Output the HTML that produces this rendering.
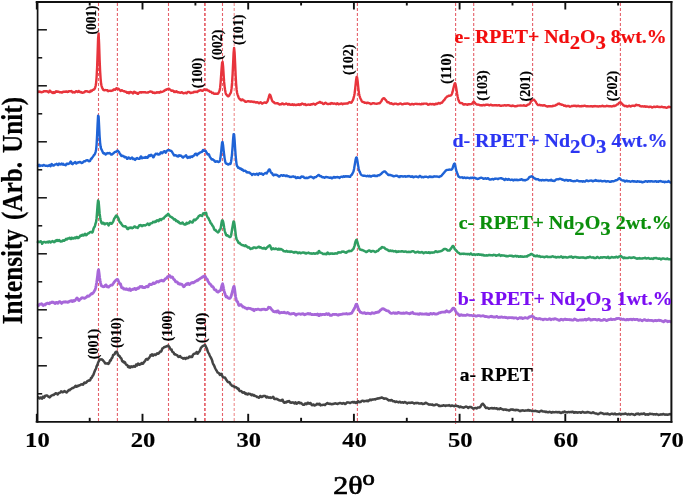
<!DOCTYPE html>
<html><head><meta charset="utf-8"><title>XRD</title>
<style>
html,body{margin:0;padding:0;background:#fff;}
svg{display:block;font-family:"Liberation Serif",serif;}
</style></head><body>
<svg width="685" height="497" viewBox="0 0 685 497">
<rect width="685" height="497" fill="#fff"/>
<g><line x1="98.5" y1="3" x2="98.5" y2="421.5" stroke="#e5616a" stroke-width="1.1" stroke-dasharray="3 2"/>
<line x1="117.4" y1="3" x2="117.4" y2="421.5" stroke="#e5616a" stroke-width="1.1" stroke-dasharray="3 2"/>
<line x1="168.5" y1="3" x2="168.5" y2="421.5" stroke="#e5616a" stroke-width="1.1" stroke-dasharray="3 2"/>
<line x1="204.9" y1="3" x2="204.9" y2="421.5" stroke="#e5616a" stroke-width="1.7" stroke-dasharray="3 2"/>
<line x1="222.5" y1="3" x2="222.5" y2="421.5" stroke="#e5616a" stroke-width="1.1" stroke-dasharray="3 2"/>
<line x1="234.2" y1="3" x2="234.2" y2="421.5" stroke="#ee8d8d" stroke-width="1.1" stroke-dasharray="3 2"/>
<line x1="357.4" y1="3" x2="357.4" y2="421.5" stroke="#e5616a" stroke-width="1.1" stroke-dasharray="3 2"/>
<line x1="455.6" y1="3" x2="455.6" y2="424" stroke="#e5616a" stroke-width="1.1" stroke-dasharray="3 2"/>
<line x1="473.7" y1="3" x2="473.7" y2="421.5" stroke="#e5616a" stroke-width="1.1" stroke-dasharray="3 2"/>
<line x1="532.6" y1="3" x2="532.6" y2="421.5" stroke="#e5616a" stroke-width="1.1" stroke-dasharray="3 2"/>
<line x1="620.4" y1="3" x2="620.4" y2="421.5" stroke="#e5616a" stroke-width="1.1" stroke-dasharray="3 2"/></g>
<g><path d="M37.6,397.3 L38.1,397.2 L38.6,397.7 L39.1,398.3 L39.6,398.5 L40.1,398.0 L40.6,397.4 L41.1,397.5 L41.6,398.3 L42.1,398.6 L42.6,397.7 L43.1,396.6 L43.6,396.8 L44.1,397.6 L44.6,396.9 L45.1,395.8 L45.6,395.8 L46.1,395.5 L46.6,395.5 L47.1,395.6 L47.6,395.9 L48.1,396.6 L48.6,396.7 L49.1,396.8 L49.6,397.4 L50.1,397.2 L50.6,396.2 L51.1,395.9 L51.6,395.6 L52.1,395.3 L52.6,394.9 L53.1,395.1 L53.6,395.1 L54.1,394.6 L54.6,394.0 L55.1,393.8 L55.6,393.3 L56.1,393.2 L56.6,393.6 L57.1,393.8 L57.6,394.5 L58.1,394.1 L58.6,393.0 L59.1,393.0 L59.6,392.7 L60.1,392.7 L60.6,392.2 L61.1,391.3 L61.6,391.6 L62.1,392.1 L62.6,392.3 L63.1,391.8 L63.6,391.9 L64.1,391.4 L64.6,391.1 L65.1,391.3 L65.6,392.0 L66.1,392.2 L66.6,392.5 L67.1,391.8 L67.6,391.4 L68.1,390.9 L68.6,390.1 L69.1,390.1 L69.6,390.3 L70.1,389.6 L70.6,389.2 L71.1,389.0 L71.6,388.7 L72.1,388.2 L72.6,387.9 L73.1,387.9 L73.6,387.5 L74.1,387.2 L74.6,387.2 L75.1,386.3 L75.6,385.7 L76.1,386.1 L76.6,386.8 L77.1,386.4 L77.6,385.8 L78.1,385.8 L78.6,386.0 L79.1,385.4 L79.6,385.2 L80.1,385.3 L80.6,384.7 L81.1,384.5 L81.6,384.4 L82.1,384.2 L82.6,384.4 L83.1,384.7 L83.6,383.9 L84.1,382.9 L84.6,382.6 L85.1,383.0 L85.6,383.0 L86.1,382.7 L86.6,382.1 L87.1,381.5 L87.6,381.0 L88.1,380.8 L88.6,380.7 L89.1,380.3 L89.6,380.4 L90.1,380.4 L90.6,379.1 L91.1,377.8 L91.6,378.0 L92.1,377.0 L92.6,375.8 L93.1,375.4 L93.6,374.3 L94.1,372.8 L94.6,371.4 L95.1,370.2 L95.6,369.3 L96.1,368.2 L96.6,366.4 L97.1,365.4 L97.6,364.4 L98.1,362.5 L98.6,361.6 L99.1,360.7 L99.6,359.7 L100.1,359.3 L100.6,359.6 L101.1,359.6 L101.6,359.3 L102.1,359.5 L102.6,360.1 L103.1,360.5 L103.6,361.1 L104.1,361.6 L104.6,362.4 L105.1,363.3 L105.6,363.4 L106.1,363.4 L106.6,363.5 L107.1,363.2 L107.6,363.4 L108.1,363.9 L108.6,363.8 L109.1,363.2 L109.6,361.6 L110.1,360.4 L110.6,360.7 L111.1,359.7 L111.6,358.3 L112.1,358.0 L112.6,356.7 L113.1,355.1 L113.6,354.7 L114.1,354.6 L114.6,354.3 L115.1,352.9 L115.6,352.0 L116.1,351.7 L116.6,351.7 L117.1,352.2 L117.6,353.7 L118.1,355.1 L118.6,355.7 L119.1,355.6 L119.6,356.1 L120.1,357.2 L120.6,357.8 L121.1,358.2 L121.6,359.1 L122.1,361.0 L122.6,361.4 L123.1,361.2 L123.6,362.2 L124.1,362.6 L124.6,361.9 L125.1,362.6 L125.6,363.8 L126.1,364.6 L126.6,364.8 L127.1,364.9 L127.6,365.7 L128.1,367.0 L128.6,367.3 L129.1,366.3 L129.6,366.6 L130.1,367.6 L130.6,366.8 L131.1,366.3 L131.6,366.6 L132.1,367.0 L132.6,367.1 L133.1,366.6 L133.6,366.0 L134.1,366.3 L134.6,366.6 L135.1,366.8 L135.6,365.7 L136.1,364.5 L136.6,364.7 L137.1,365.4 L137.6,364.6 L138.1,363.6 L138.6,364.0 L139.1,364.7 L139.6,364.8 L140.1,364.1 L140.6,364.2 L141.1,364.0 L141.6,363.1 L142.1,363.1 L142.6,363.8 L143.1,363.6 L143.6,362.7 L144.1,362.0 L144.6,361.6 L145.1,360.8 L145.6,359.9 L146.1,359.2 L146.6,359.0 L147.1,359.2 L147.6,359.6 L148.1,358.7 L148.6,358.4 L149.1,358.0 L149.6,357.1 L150.1,356.3 L150.6,355.1 L151.1,355.4 L151.6,355.4 L152.1,354.3 L152.6,354.7 L153.1,355.6 L153.6,355.3 L154.1,354.6 L154.6,354.6 L155.1,354.7 L155.6,355.0 L156.1,354.6 L156.6,353.8 L157.1,353.3 L157.6,353.4 L158.1,353.8 L158.6,353.4 L159.1,353.0 L159.6,352.2 L160.1,351.4 L160.6,351.4 L161.1,351.5 L161.6,350.7 L162.1,349.1 L162.6,348.2 L163.1,348.1 L163.6,347.7 L164.1,347.2 L164.6,347.0 L165.1,346.9 L165.6,346.7 L166.1,346.6 L166.6,346.3 L167.1,346.2 L167.6,345.8 L168.1,345.5 L168.6,346.0 L169.1,346.8 L169.6,347.4 L170.1,348.5 L170.6,349.4 L171.1,349.2 L171.6,349.6 L172.1,351.2 L172.6,351.9 L173.1,352.2 L173.6,352.5 L174.1,353.9 L174.6,354.4 L175.1,354.2 L175.6,354.4 L176.1,354.8 L176.6,355.1 L177.1,355.2 L177.6,355.7 L178.1,356.7 L178.6,356.9 L179.1,356.8 L179.6,356.4 L180.1,356.0 L180.6,356.9 L181.1,357.3 L181.6,357.6 L182.1,357.9 L182.6,358.1 L183.1,358.6 L183.6,358.3 L184.1,358.0 L184.6,358.2 L185.1,358.8 L185.6,358.9 L186.1,358.1 L186.6,357.7 L187.1,358.2 L187.6,357.9 L188.1,358.1 L188.6,357.6 L189.1,356.7 L189.6,356.6 L190.1,356.9 L190.6,356.9 L191.1,356.6 L191.6,356.9 L192.1,357.0 L192.6,355.7 L193.1,354.6 L193.6,354.1 L194.1,353.8 L194.6,353.8 L195.1,353.5 L195.6,353.3 L196.1,353.1 L196.6,352.0 L197.1,352.4 L197.6,353.7 L198.1,353.3 L198.6,352.3 L199.1,351.7 L199.6,351.3 L200.1,350.1 L200.6,348.7 L201.1,347.5 L201.6,347.2 L202.1,346.7 L202.6,346.2 L203.1,345.9 L203.6,345.7 L204.1,345.5 L204.6,345.4 L205.1,345.0 L205.6,345.9 L206.1,347.3 L206.6,348.0 L207.1,349.3 L207.6,350.9 L208.1,352.4 L208.6,353.2 L209.1,353.8 L209.6,355.2 L210.1,356.3 L210.6,357.1 L211.1,358.2 L211.6,359.1 L212.1,360.4 L212.6,362.4 L213.1,363.8 L213.6,364.6 L214.1,365.6 L214.6,366.8 L215.1,368.0 L215.6,369.0 L216.1,369.9 L216.6,370.6 L217.1,371.7 L217.6,372.5 L218.1,372.8 L218.6,372.9 L219.1,373.5 L219.6,374.5 L220.1,374.9 L220.6,374.7 L221.1,373.8 L221.6,374.0 L222.1,375.6 L222.6,376.7 L223.1,377.3 L223.6,377.4 L224.1,377.4 L224.6,377.4 L225.1,377.6 L225.6,378.8 L226.1,379.4 L226.6,380.3 L227.1,381.0 L227.6,381.7 L228.1,382.2 L228.6,382.1 L229.1,382.1 L229.6,382.4 L230.1,383.3 L230.6,384.4 L231.1,384.6 L231.6,385.3 L232.1,385.8 L232.6,386.1 L233.1,386.1 L233.6,385.9 L234.1,386.6 L234.6,387.3 L235.1,386.9 L235.6,386.9 L236.1,387.3 L236.6,387.7 L237.1,388.1 L237.6,388.9 L238.1,388.6 L238.6,388.7 L239.1,390.3 L239.6,390.9 L240.1,391.0 L240.6,391.1 L241.1,391.1 L241.6,391.4 L242.1,392.2 L242.6,392.6 L243.1,392.7 L243.6,392.4 L244.1,392.2 L244.6,392.7 L245.1,393.6 L245.6,393.9 L246.1,393.4 L246.6,393.5 L247.1,394.4 L247.6,394.6 L248.1,394.2 L248.6,393.6 L249.1,393.7 L249.6,394.0 L250.1,394.0 L250.6,394.0 L251.1,394.9 L251.6,395.2 L252.1,394.9 L252.6,394.6 L253.1,395.2 L253.6,395.6 L254.1,395.1 L254.6,395.6 L255.1,396.0 L255.6,396.0 L256.1,396.3 L256.6,396.5 L257.1,397.0 L257.6,397.1 L258.1,397.2 L258.6,397.8 L259.1,397.6 L259.6,397.0 L260.1,396.0 L260.6,396.1 L261.1,396.8 L261.6,397.0 L262.1,396.8 L262.6,396.6 L263.1,396.1 L263.6,396.0 L264.1,395.9 L264.6,396.1 L265.1,396.1 L265.6,396.2 L266.1,397.0 L266.6,397.5 L267.1,396.8 L267.6,396.8 L268.1,397.3 L268.6,397.4 L269.1,397.8 L269.6,397.5 L270.1,397.2 L270.6,397.5 L271.1,397.9 L271.6,397.7 L272.1,397.5 L272.6,397.2 L273.1,396.8 L273.6,397.4 L274.1,398.7 L274.6,399.1 L275.1,399.0 L275.6,398.9 L276.1,398.7 L276.6,398.9 L277.1,399.0 L277.6,399.5 L278.1,399.6 L278.6,399.9 L279.1,400.3 L279.6,400.3 L280.1,400.5 L280.6,400.6 L281.1,400.7 L281.6,400.6 L282.1,399.7 L282.6,399.8 L283.1,401.1 L283.6,402.2 L284.1,402.8 L284.6,402.8 L285.1,402.5 L285.6,402.1 L286.1,402.4 L286.6,402.3 L287.1,401.5 L287.6,401.3 L288.1,401.7 L288.6,401.5 L289.1,401.0 L289.6,401.8 L290.1,402.5 L290.6,402.6 L291.1,402.8 L291.6,402.7 L292.1,402.3 L292.6,402.5 L293.1,402.5 L293.6,402.5 L294.1,403.2 L294.6,403.5 L295.1,402.7 L295.6,402.3 L296.1,402.8 L296.6,403.8 L297.1,403.5 L297.6,403.0 L298.1,402.6 L298.6,402.3 L299.1,402.3 L299.6,403.1 L300.1,403.3 L300.6,402.8 L301.1,403.0 L301.6,403.4 L302.1,403.9 L302.6,404.3 L303.1,404.7 L303.6,404.8 L304.1,404.7 L304.6,404.3 L305.1,403.5 L305.6,403.6 L306.1,404.2 L306.6,404.1 L307.1,403.5 L307.6,402.7 L308.1,402.8 L308.6,403.5 L309.1,403.7 L309.6,403.4 L310.1,403.1 L310.6,403.1 L311.1,404.0 L311.6,404.9 L312.1,405.2 L312.6,404.9 L313.1,404.5 L313.6,404.6 L314.1,405.4 L314.6,405.6 L315.1,405.1 L315.6,405.0 L316.1,404.8 L316.6,404.2 L317.1,403.7 L317.6,404.1 L318.1,404.4 L318.6,404.0 L319.1,403.7 L319.6,403.7 L320.1,404.9 L320.6,405.4 L321.1,405.2 L321.6,405.0 L322.1,404.9 L322.6,404.9 L323.1,404.8 L323.6,404.8 L324.1,404.8 L324.6,404.9 L325.1,404.9 L325.6,404.2 L326.1,404.0 L326.6,403.7 L327.1,403.2 L327.6,403.1 L328.1,403.7 L328.6,403.7 L329.1,403.7 L329.6,403.9 L330.1,403.8 L330.6,403.8 L331.1,404.0 L331.6,404.3 L332.1,404.2 L332.6,403.9 L333.1,404.1 L333.6,403.9 L334.1,403.7 L334.6,403.6 L335.1,403.5 L335.6,403.2 L336.1,403.5 L336.6,403.8 L337.1,403.8 L337.6,404.0 L338.1,403.6 L338.6,403.4 L339.1,403.3 L339.6,403.1 L340.1,403.0 L340.6,403.2 L341.1,403.3 L341.6,403.4 L342.1,403.7 L342.6,403.6 L343.1,403.1 L343.6,403.2 L344.1,403.3 L344.6,403.5 L345.1,404.0 L345.6,403.8 L346.1,403.3 L346.6,402.8 L347.1,402.3 L347.6,402.5 L348.1,402.4 L348.6,402.4 L349.1,402.6 L349.6,402.8 L350.1,403.0 L350.6,402.8 L351.1,402.5 L351.6,402.2 L352.1,402.2 L352.6,402.1 L353.1,402.0 L353.6,402.4 L354.1,402.0 L354.6,402.0 L355.1,402.7 L355.6,402.9 L356.1,402.2 L356.6,402.3 L357.1,402.8 L357.6,402.1 L358.1,401.2 L358.6,401.6 L359.1,402.2 L359.6,402.1 L360.1,402.0 L360.6,402.0 L361.1,401.6 L361.6,401.0 L362.1,400.7 L362.6,400.8 L363.1,400.7 L363.6,401.0 L364.1,401.4 L364.6,401.2 L365.1,400.9 L365.6,400.9 L366.1,401.0 L366.6,400.9 L367.1,400.5 L367.6,400.8 L368.1,401.2 L368.6,400.9 L369.1,400.3 L369.6,399.9 L370.1,399.6 L370.6,399.9 L371.1,400.3 L371.6,400.0 L372.1,399.5 L372.6,399.5 L373.1,399.5 L373.6,399.5 L374.1,399.3 L374.6,399.2 L375.1,399.4 L375.6,399.4 L376.1,398.9 L376.6,398.7 L377.1,398.8 L377.6,398.4 L378.1,398.3 L378.6,398.4 L379.1,398.4 L379.6,398.2 L380.1,398.0 L380.6,398.0 L381.1,397.7 L381.6,397.4 L382.1,397.6 L382.6,398.0 L383.1,398.0 L383.6,398.3 L384.1,398.7 L384.6,398.7 L385.1,398.5 L385.6,398.5 L386.1,398.7 L386.6,398.8 L387.1,399.1 L387.6,399.6 L388.1,399.9 L388.6,400.4 L389.1,400.3 L389.6,400.2 L390.1,400.4 L390.6,400.5 L391.1,400.1 L391.6,400.1 L392.1,400.4 L392.6,400.9 L393.1,401.3 L393.6,401.3 L394.1,401.2 L394.6,401.4 L395.1,401.9 L395.6,402.0 L396.1,401.7 L396.6,401.5 L397.1,401.8 L397.6,402.0 L398.1,402.2 L398.6,402.4 L399.1,402.2 L399.6,401.7 L400.1,401.9 L400.6,402.4 L401.1,402.5 L401.6,402.5 L402.1,402.3 L402.6,402.2 L403.1,402.5 L403.6,402.8 L404.1,402.5 L404.6,402.1 L405.1,402.1 L405.6,402.3 L406.1,402.7 L406.6,403.2 L407.1,403.4 L407.6,403.0 L408.1,402.7 L408.6,402.8 L409.1,402.8 L409.6,402.8 L410.1,402.9 L410.6,402.8 L411.1,402.6 L411.6,402.8 L412.1,402.6 L412.6,402.6 L413.1,402.8 L413.6,403.1 L414.1,403.5 L414.6,403.4 L415.1,403.1 L415.6,402.9 L416.1,403.0 L416.6,403.2 L417.1,403.1 L417.6,403.1 L418.1,402.9 L418.6,403.3 L419.1,403.6 L419.6,403.6 L420.1,403.6 L420.6,403.6 L421.1,403.3 L421.6,403.2 L422.1,403.6 L422.6,404.0 L423.1,403.9 L423.6,403.8 L424.1,403.8 L424.6,403.6 L425.1,403.0 L425.6,402.7 L426.1,402.9 L426.6,403.2 L427.1,403.5 L427.6,403.7 L428.1,404.0 L428.6,404.4 L429.1,404.5 L429.6,404.6 L430.1,404.7 L430.6,404.5 L431.1,404.5 L431.6,404.8 L432.1,404.5 L432.6,404.6 L433.1,405.2 L433.6,405.3 L434.1,405.2 L434.6,405.2 L435.1,405.0 L435.6,404.6 L436.1,404.4 L436.6,404.4 L437.1,404.7 L437.6,404.9 L438.1,405.1 L438.6,405.6 L439.1,406.0 L439.6,405.6 L440.1,405.8 L440.6,406.0 L441.1,405.9 L441.6,405.7 L442.1,405.8 L442.6,405.7 L443.1,405.4 L443.6,405.3 L444.1,405.4 L444.6,405.6 L445.1,405.8 L445.6,405.9 L446.1,405.6 L446.6,405.5 L447.1,405.5 L447.6,405.6 L448.1,405.5 L448.6,405.3 L449.1,405.1 L449.6,405.3 L450.1,405.8 L450.6,406.1 L451.1,405.9 L451.6,405.5 L452.1,405.5 L452.6,405.7 L453.1,405.8 L453.6,406.0 L454.1,406.2 L454.6,406.1 L455.1,405.8 L455.6,405.6 L456.1,405.7 L456.6,405.8 L457.1,406.1 L457.6,406.3 L458.1,406.2 L458.6,406.4 L459.1,406.9 L459.6,407.3 L460.1,407.0 L460.6,406.6 L461.1,407.0 L461.6,407.2 L462.1,407.2 L462.6,407.3 L463.1,407.6 L463.6,407.7 L464.1,407.5 L464.6,407.2 L465.1,407.0 L465.6,406.7 L466.1,406.6 L466.6,406.8 L467.1,406.9 L467.6,407.4 L468.1,408.0 L468.6,407.8 L469.1,407.2 L469.6,407.0 L470.1,407.1 L470.6,407.0 L471.1,407.1 L471.6,407.6 L472.1,407.7 L472.6,408.2 L473.1,408.7 L473.6,408.5 L474.1,408.3 L474.6,408.3 L475.1,408.1 L475.6,408.0 L476.1,408.2 L476.6,408.4 L477.1,408.1 L477.6,407.6 L478.1,407.4 L478.6,407.5 L479.1,407.6 L479.6,407.5 L480.1,407.1 L480.6,406.4 L481.1,405.4 L481.6,404.7 L482.1,404.2 L482.6,403.8 L483.1,403.8 L483.6,404.6 L484.1,405.1 L484.6,405.9 L485.1,406.9 L485.6,407.5 L486.1,408.1 L486.6,407.9 L487.1,407.7 L487.6,407.9 L488.1,408.1 L488.6,408.6 L489.1,408.8 L489.6,408.5 L490.1,408.2 L490.6,408.3 L491.1,408.3 L491.6,408.0 L492.1,408.0 L492.6,408.4 L493.1,408.6 L493.6,408.4 L494.1,408.2 L494.6,408.1 L495.1,408.6 L495.6,408.5 L496.1,408.2 L496.6,408.2 L497.1,408.6 L497.6,409.2 L498.1,409.0 L498.6,408.7 L499.1,409.2 L499.6,409.1 L500.1,408.4 L500.6,408.2 L501.1,408.9 L501.6,409.1 L502.1,409.1 L502.6,409.3 L503.1,409.7 L503.6,409.9 L504.1,409.7 L504.6,409.5 L505.1,409.6 L505.6,409.7 L506.1,409.6 L506.6,410.0 L507.1,410.0 L507.6,410.0 L508.1,410.1 L508.6,410.3 L509.1,410.5 L509.6,410.5 L510.1,409.9 L510.6,409.6 L511.1,409.6 L511.6,409.6 L512.1,409.7 L512.6,409.5 L513.1,409.6 L513.6,409.9 L514.1,410.0 L514.6,410.0 L515.1,410.3 L515.6,410.2 L516.1,409.7 L516.6,410.0 L517.1,410.1 L517.6,410.1 L518.1,410.1 L518.6,410.4 L519.1,410.7 L519.6,410.9 L520.1,411.2 L520.6,411.0 L521.1,410.5 L521.6,410.4 L522.1,410.5 L522.6,410.3 L523.1,410.4 L523.6,410.6 L524.1,410.7 L524.6,410.7 L525.1,410.7 L525.6,410.5 L526.1,410.5 L526.6,410.4 L527.1,410.6 L527.6,410.5 L528.1,410.0 L528.6,409.9 L529.1,410.5 L529.6,410.7 L530.1,410.6 L530.6,410.4 L531.1,410.6 L531.6,410.8 L532.1,411.0 L532.6,411.2 L533.1,411.1 L533.6,410.9 L534.1,411.1 L534.6,411.0 L535.1,410.9 L535.6,410.7 L536.1,411.0 L536.6,411.3 L537.1,411.3 L537.6,411.4 L538.1,411.6 L538.6,411.7 L539.1,411.9 L539.6,411.5 L540.1,411.3 L540.6,411.1 L541.1,410.7 L541.6,410.7 L542.1,411.2 L542.6,411.3 L543.1,411.5 L543.6,411.4 L544.1,411.4 L544.6,411.7 L545.1,411.9 L545.6,411.9 L546.1,411.6 L546.6,411.8 L547.1,412.1 L547.6,412.2 L548.1,412.3 L548.6,412.2 L549.1,411.9 L549.6,411.8 L550.1,412.1 L550.6,412.2 L551.1,412.5 L551.6,412.7 L552.1,412.4 L552.6,412.0 L553.1,412.1 L553.6,412.3 L554.1,412.2 L554.6,412.3 L555.1,412.2 L555.6,412.1 L556.1,412.0 L556.6,412.2 L557.1,412.4 L557.6,412.2 L558.1,412.1 L558.6,412.2 L559.1,412.4 L559.6,412.1 L560.1,412.3 L560.6,412.8 L561.1,413.0 L561.6,412.7 L562.1,412.5 L562.6,412.1 L563.1,412.4 L563.6,412.3 L564.1,411.7 L564.6,411.5 L565.1,411.8 L565.6,412.1 L566.1,412.2 L566.6,412.2 L567.1,412.4 L567.6,412.3 L568.1,411.9 L568.6,411.9 L569.1,412.1 L569.6,412.3 L570.1,412.1 L570.6,412.0 L571.1,412.0 L571.6,412.2 L572.1,411.8 L572.6,411.7 L573.1,411.9 L573.6,412.3 L574.1,412.8 L574.6,412.4 L575.1,412.1 L575.6,412.3 L576.1,412.4 L576.6,412.3 L577.1,412.6 L577.6,412.7 L578.1,412.5 L578.6,412.4 L579.1,412.2 L579.6,412.2 L580.1,412.3 L580.6,412.7 L581.1,412.8 L581.6,412.4 L582.1,412.0 L582.6,411.7 L583.1,412.0 L583.6,412.3 L584.1,412.5 L584.6,412.6 L585.1,412.7 L585.6,412.5 L586.1,412.5 L586.6,412.6 L587.1,412.0 L587.6,411.9 L588.1,412.2 L588.6,412.3 L589.1,412.4 L589.6,412.6 L590.1,412.7 L590.6,412.9 L591.1,413.1 L591.6,413.0 L592.1,412.8 L592.6,412.4 L593.1,412.3 L593.6,412.6 L594.1,413.0 L594.6,413.2 L595.1,413.4 L595.6,413.6 L596.1,413.5 L596.6,413.4 L597.1,413.8 L597.6,414.1 L598.1,414.2 L598.6,414.0 L599.1,413.6 L599.6,413.4 L600.1,413.1 L600.6,412.7 L601.1,412.9 L601.6,413.1 L602.1,413.3 L602.6,413.3 L603.1,413.6 L603.6,414.0 L604.1,413.9 L604.6,413.9 L605.1,413.8 L605.6,413.8 L606.1,413.9 L606.6,413.9 L607.1,413.5 L607.6,413.5 L608.1,414.0 L608.6,414.2 L609.1,414.3 L609.6,414.5 L610.1,414.4 L610.6,414.1 L611.1,413.9 L611.6,413.7 L612.1,413.8 L612.6,413.8 L613.1,414.0 L613.6,414.3 L614.1,414.1 L614.6,413.7 L615.1,413.6 L615.6,414.1 L616.1,414.4 L616.6,414.2 L617.1,414.3 L617.6,414.3 L618.1,414.3 L618.6,414.1 L619.1,413.8 L619.6,413.8 L620.1,413.8 L620.6,414.3 L621.1,414.4 L621.6,414.1 L622.1,414.0 L622.6,414.0 L623.1,414.0 L623.6,414.0 L624.1,413.9 L624.6,413.8 L625.1,413.6 L625.6,413.6 L626.1,413.8 L626.6,414.1 L627.1,414.3 L627.6,414.5 L628.1,414.2 L628.6,414.0 L629.1,414.2 L629.6,414.5 L630.1,414.6 L630.6,414.3 L631.1,413.9 L631.6,414.0 L632.1,414.2 L632.6,414.3 L633.1,414.3 L633.6,414.4 L634.1,414.8 L634.6,414.9 L635.1,414.8 L635.6,414.3 L636.1,413.7 L636.6,413.7 L637.1,414.1 L637.6,414.0 L638.1,413.5 L638.6,413.9 L639.1,414.5 L639.6,414.4 L640.1,414.0 L640.6,413.9 L641.1,413.8 L641.6,413.8 L642.1,414.1 L642.6,414.1 L643.1,413.7 L643.6,413.5 L644.1,413.4 L644.6,413.7 L645.1,414.4 L645.6,414.7 L646.1,414.5 L646.6,414.4 L647.1,414.2 L647.6,414.4 L648.1,414.7 L648.6,414.6 L649.1,414.2 L649.6,413.8 L650.1,413.7 L650.6,413.9 L651.1,414.0 L651.6,414.0 L652.1,414.0 L652.6,414.1 L653.1,414.3 L653.6,414.4 L654.1,414.3 L654.6,414.2 L655.1,414.3 L655.6,414.6 L656.1,414.4 L656.6,414.1 L657.1,414.2 L657.6,414.5 L658.1,414.8 L658.6,414.9 L659.1,414.8 L659.6,414.8 L660.1,414.6 L660.6,414.4 L661.1,414.3 L661.6,414.6 L662.1,414.6 L662.6,414.4 L663.1,414.1 L663.6,414.0 L664.1,414.4 L664.6,414.6 L665.1,414.7 L665.6,414.6 L666.1,414.5 L666.6,414.6 L667.1,414.8 L667.6,414.8 L668.1,414.6 L668.6,414.5 L669.1,414.3 L669.6,414.2 L670.1,414.1 L670.6,414.5 L671.1,414.7" fill="none" stroke="#444444" stroke-width="2.5" stroke-linejoin="round" stroke-linecap="butt"/>
<path d="M37.6,304.1 L38.1,304.8 L38.6,305.6 L39.1,305.1 L39.6,304.1 L40.1,304.1 L40.6,304.2 L41.1,304.0 L41.6,303.7 L42.1,304.3 L42.6,305.0 L43.1,305.5 L43.6,305.2 L44.1,304.8 L44.6,304.5 L45.1,304.9 L45.6,304.0 L46.1,304.1 L46.6,303.7 L47.1,303.1 L47.6,303.1 L48.1,303.3 L48.6,303.6 L49.1,303.8 L49.6,303.7 L50.1,302.7 L50.6,302.6 L51.1,302.7 L51.6,302.7 L52.1,301.9 L52.6,302.2 L53.1,302.4 L53.6,302.2 L54.1,302.9 L54.6,303.2 L55.1,303.5 L55.6,303.2 L56.1,302.4 L56.6,302.3 L57.1,302.8 L57.6,303.3 L58.1,303.2 L58.6,302.3 L59.1,301.8 L59.6,301.6 L60.1,301.8 L60.6,302.1 L61.1,302.8 L61.6,303.4 L62.1,302.7 L62.6,302.4 L63.1,302.3 L63.6,301.8 L64.1,301.8 L64.6,302.1 L65.1,302.1 L65.6,301.8 L66.1,302.2 L66.6,302.0 L67.1,302.0 L67.6,302.3 L68.1,302.3 L68.6,302.1 L69.1,301.6 L69.6,301.2 L70.1,301.0 L70.6,300.8 L71.1,301.2 L71.6,300.6 L72.1,300.7 L72.6,301.6 L73.1,301.0 L73.6,300.5 L74.1,301.1 L74.6,300.8 L75.1,300.5 L75.6,299.7 L76.1,299.1 L76.6,298.3 L77.1,297.9 L77.6,298.4 L78.1,299.3 L78.6,300.2 L79.1,300.5 L79.6,299.6 L80.1,299.4 L80.6,299.0 L81.1,298.5 L81.6,297.9 L82.1,297.7 L82.6,297.8 L83.1,297.9 L83.6,298.1 L84.1,298.2 L84.6,298.4 L85.1,298.0 L85.6,297.6 L86.1,297.5 L86.6,297.0 L87.1,296.3 L87.6,295.9 L88.1,296.0 L88.6,296.3 L89.1,296.1 L89.6,295.6 L90.1,295.1 L90.6,294.4 L91.1,293.9 L91.6,293.4 L92.1,293.8 L92.6,293.4 L93.1,292.9 L93.6,292.3 L94.1,291.4 L94.6,290.6 L95.1,289.8 L95.6,288.0 L96.1,285.6 L96.6,282.9 L97.1,279.2 L97.6,275.4 L98.1,270.9 L98.6,269.6 L99.1,273.2 L99.6,277.4 L100.1,280.4 L100.6,283.0 L101.1,285.1 L101.6,286.1 L102.1,286.1 L102.6,286.3 L103.1,286.8 L103.6,286.7 L104.1,286.7 L104.6,286.4 L105.1,285.6 L105.6,285.1 L106.1,284.9 L106.6,286.0 L107.1,286.8 L107.6,286.5 L108.1,287.0 L108.6,287.0 L109.1,286.4 L109.6,286.1 L110.1,285.8 L110.6,285.3 L111.1,285.1 L111.6,285.2 L112.1,285.2 L112.6,284.6 L113.1,283.7 L113.6,283.1 L114.1,282.2 L114.6,281.6 L115.1,281.2 L115.6,280.5 L116.1,280.0 L116.6,279.7 L117.1,279.3 L117.6,279.4 L118.1,280.3 L118.6,281.5 L119.1,282.7 L119.6,284.1 L120.1,284.2 L120.6,284.0 L121.1,285.8 L121.6,287.7 L122.1,287.8 L122.6,287.6 L123.1,287.9 L123.6,288.9 L124.1,289.1 L124.6,289.0 L125.1,289.0 L125.6,289.4 L126.1,289.2 L126.6,288.7 L127.1,289.4 L127.6,289.7 L128.1,289.8 L128.6,290.0 L129.1,289.3 L129.6,288.7 L130.1,290.1 L130.6,290.5 L131.1,289.9 L131.6,289.7 L132.1,289.6 L132.6,289.2 L133.1,289.4 L133.6,289.3 L134.1,288.8 L134.6,288.4 L135.1,288.6 L135.6,289.4 L136.1,289.6 L136.6,289.1 L137.1,288.4 L137.6,288.0 L138.1,288.5 L138.6,288.3 L139.1,287.3 L139.6,287.2 L140.1,286.5 L140.6,286.8 L141.1,287.1 L141.6,286.5 L142.1,286.4 L142.6,287.2 L143.1,287.6 L143.6,287.5 L144.1,287.6 L144.6,287.3 L145.1,287.5 L145.6,287.0 L146.1,286.5 L146.6,286.3 L147.1,286.4 L147.6,286.8 L148.1,286.8 L148.6,285.7 L149.1,284.7 L149.6,284.1 L150.1,284.3 L150.6,284.6 L151.1,284.6 L151.6,284.4 L152.1,284.2 L152.6,283.8 L153.1,282.8 L153.6,282.8 L154.1,283.6 L154.6,283.4 L155.1,282.9 L155.6,282.9 L156.1,282.3 L156.6,281.7 L157.1,281.4 L157.6,281.9 L158.1,282.0 L158.6,282.0 L159.1,281.5 L159.6,280.9 L160.1,280.8 L160.6,280.9 L161.1,280.4 L161.6,280.1 L162.1,280.4 L162.6,280.8 L163.1,281.1 L163.6,281.0 L164.1,280.2 L164.6,279.7 L165.1,278.9 L165.6,278.6 L166.1,278.5 L166.6,278.4 L167.1,277.5 L167.6,276.6 L168.1,276.5 L168.6,276.2 L169.1,275.7 L169.6,275.5 L170.1,276.0 L170.6,277.3 L171.1,277.4 L171.6,277.2 L172.1,276.9 L172.6,277.2 L173.1,278.2 L173.6,279.1 L174.1,279.7 L174.6,279.9 L175.1,280.9 L175.6,281.7 L176.1,281.5 L176.6,281.9 L177.1,281.9 L177.6,282.6 L178.1,283.4 L178.6,283.9 L179.1,283.5 L179.6,283.9 L180.1,284.3 L180.6,283.9 L181.1,284.1 L181.6,284.1 L182.1,284.4 L182.6,285.3 L183.1,286.1 L183.6,286.8 L184.1,286.6 L184.6,286.0 L185.1,285.2 L185.6,284.7 L186.1,284.2 L186.6,283.8 L187.1,284.4 L187.6,283.9 L188.1,283.3 L188.6,283.7 L189.1,284.5 L189.6,284.5 L190.1,283.8 L190.6,283.5 L191.1,283.0 L191.6,282.6 L192.1,282.8 L192.6,282.7 L193.1,282.4 L193.6,282.8 L194.1,282.3 L194.6,282.1 L195.1,281.6 L195.6,281.2 L196.1,281.1 L196.6,281.0 L197.1,280.2 L197.6,280.2 L198.1,280.4 L198.6,279.5 L199.1,279.2 L199.6,279.0 L200.1,278.5 L200.6,278.2 L201.1,277.8 L201.6,277.7 L202.1,277.2 L202.6,276.8 L203.1,277.1 L203.6,276.6 L204.1,276.0 L204.6,275.8 L205.1,276.3 L205.6,277.2 L206.1,278.3 L206.6,279.1 L207.1,279.2 L207.6,280.2 L208.1,281.6 L208.6,282.2 L209.1,282.9 L209.6,283.9 L210.1,284.1 L210.6,284.4 L211.1,285.1 L211.6,286.2 L212.1,286.5 L212.6,286.5 L213.1,287.1 L213.6,287.7 L214.1,289.1 L214.6,289.8 L215.1,289.8 L215.6,289.8 L216.1,290.1 L216.6,291.3 L217.1,291.7 L217.6,291.9 L218.1,292.1 L218.6,291.7 L219.1,291.2 L219.6,290.7 L220.1,290.5 L220.6,290.5 L221.1,288.5 L221.6,286.5 L222.1,284.9 L222.6,283.8 L223.1,285.8 L223.6,288.5 L224.1,290.8 L224.6,292.8 L225.1,294.1 L225.6,295.9 L226.1,296.9 L226.6,296.3 L227.1,296.7 L227.6,297.6 L228.1,298.0 L228.6,298.1 L229.1,298.5 L229.6,298.4 L230.1,297.9 L230.6,297.6 L231.1,296.3 L231.6,294.4 L232.1,292.6 L232.6,291.0 L233.1,288.6 L233.6,286.8 L234.1,286.3 L234.6,289.0 L235.1,293.0 L235.6,296.5 L236.1,299.2 L236.6,300.9 L237.1,301.5 L237.6,301.8 L238.1,303.2 L238.6,305.0 L239.1,305.5 L239.6,305.4 L240.1,304.8 L240.6,304.6 L241.1,304.7 L241.6,305.4 L242.1,305.9 L242.6,306.6 L243.1,307.2 L243.6,307.0 L244.1,307.2 L244.6,307.3 L245.1,308.0 L245.6,308.0 L246.1,308.1 L246.6,308.6 L247.1,309.1 L247.6,308.6 L248.1,308.1 L248.6,308.1 L249.1,308.4 L249.6,308.4 L250.1,308.4 L250.6,308.8 L251.1,308.9 L251.6,308.8 L252.1,309.5 L252.6,309.8 L253.1,309.3 L253.6,310.2 L254.1,310.7 L254.6,309.9 L255.1,309.6 L255.6,309.3 L256.1,309.5 L256.6,309.6 L257.1,309.5 L257.6,309.1 L258.1,309.1 L258.6,309.3 L259.1,309.5 L259.6,309.7 L260.1,309.8 L260.6,309.7 L261.1,309.9 L261.6,309.7 L262.1,309.1 L262.6,309.4 L263.1,309.4 L263.6,309.1 L264.1,309.1 L264.6,309.3 L265.1,309.6 L265.6,309.8 L266.1,309.6 L266.6,309.7 L267.1,309.2 L267.6,309.0 L268.1,308.3 L268.6,307.2 L269.1,307.5 L269.6,307.8 L270.1,307.5 L270.6,308.0 L271.1,308.7 L271.6,309.4 L272.1,309.9 L272.6,310.4 L273.1,311.2 L273.6,311.5 L274.1,311.5 L274.6,311.9 L275.1,311.9 L275.6,311.5 L276.1,311.3 L276.6,312.1 L277.1,311.9 L277.6,310.8 L278.1,310.9 L278.6,311.8 L279.1,312.7 L279.6,313.0 L280.1,312.7 L280.6,312.8 L281.1,312.7 L281.6,312.3 L282.1,312.5 L282.6,312.6 L283.1,312.7 L283.6,312.6 L284.1,312.2 L284.6,312.3 L285.1,312.8 L285.6,312.9 L286.1,313.0 L286.6,313.2 L287.1,312.8 L287.6,312.4 L288.1,312.7 L288.6,313.0 L289.1,313.4 L289.6,313.9 L290.1,314.0 L290.6,314.1 L291.1,313.9 L291.6,313.7 L292.1,313.8 L292.6,313.6 L293.1,313.5 L293.6,313.4 L294.1,313.6 L294.6,313.8 L295.1,314.2 L295.6,314.9 L296.1,315.1 L296.6,314.5 L297.1,314.1 L297.6,314.2 L298.1,314.0 L298.6,313.8 L299.1,313.9 L299.6,313.9 L300.1,314.0 L300.6,314.4 L301.1,314.0 L301.6,313.9 L302.1,314.1 L302.6,313.8 L303.1,313.6 L303.6,313.9 L304.1,314.5 L304.6,314.8 L305.1,314.6 L305.6,314.3 L306.1,314.1 L306.6,314.2 L307.1,313.7 L307.6,313.5 L308.1,313.4 L308.6,313.7 L309.1,314.1 L309.6,314.1 L310.1,313.6 L310.6,314.2 L311.1,314.3 L311.6,314.6 L312.1,314.7 L312.6,314.4 L313.1,314.5 L313.6,314.7 L314.1,314.5 L314.6,314.3 L315.1,314.5 L315.6,314.3 L316.1,314.3 L316.6,314.8 L317.1,314.6 L317.6,314.0 L318.1,314.6 L318.6,315.6 L319.1,315.7 L319.6,314.9 L320.1,314.3 L320.6,314.6 L321.1,315.0 L321.6,314.8 L322.1,314.4 L322.6,314.3 L323.1,314.5 L323.6,314.4 L324.1,314.4 L324.6,314.6 L325.1,314.6 L325.6,314.3 L326.1,313.8 L326.6,313.6 L327.1,314.3 L327.6,314.6 L328.1,314.1 L328.6,313.7 L329.1,314.1 L329.6,314.8 L330.1,315.4 L330.6,315.3 L331.1,315.2 L331.6,315.3 L332.1,315.2 L332.6,314.6 L333.1,314.3 L333.6,314.3 L334.1,314.4 L334.6,314.5 L335.1,314.5 L335.6,314.3 L336.1,314.3 L336.6,314.5 L337.1,314.8 L337.6,314.8 L338.1,315.3 L338.6,315.1 L339.1,314.5 L339.6,314.7 L340.1,314.7 L340.6,314.3 L341.1,314.4 L341.6,314.4 L342.1,314.2 L342.6,313.9 L343.1,313.9 L343.6,314.0 L344.1,313.9 L344.6,313.8 L345.1,313.8 L345.6,313.8 L346.1,313.7 L346.6,313.5 L347.1,314.0 L347.6,314.1 L348.1,314.0 L348.6,313.9 L349.1,313.7 L349.6,313.9 L350.1,313.5 L350.6,313.4 L351.1,313.4 L351.6,313.2 L352.1,312.4 L352.6,311.5 L353.1,310.8 L353.6,309.7 L354.1,308.9 L354.6,308.1 L355.1,307.0 L355.6,305.5 L356.1,304.4 L356.6,304.2 L357.1,305.0 L357.6,306.4 L358.1,308.0 L358.6,309.1 L359.1,310.2 L359.6,311.0 L360.1,311.9 L360.6,312.4 L361.1,312.4 L361.6,312.6 L362.1,312.9 L362.6,313.2 L363.1,313.2 L363.6,312.9 L364.1,312.6 L364.6,312.6 L365.1,313.3 L365.6,313.6 L366.1,313.5 L366.6,313.5 L367.1,313.1 L367.6,313.1 L368.1,313.4 L368.6,313.2 L369.1,313.4 L369.6,313.6 L370.1,313.7 L370.6,313.8 L371.1,313.4 L371.6,313.0 L372.1,312.7 L372.6,312.9 L373.1,313.1 L373.6,313.3 L374.1,313.3 L374.6,313.2 L375.1,312.8 L375.6,312.4 L376.1,312.6 L376.6,312.6 L377.1,312.1 L377.6,312.0 L378.1,312.3 L378.6,312.1 L379.1,311.7 L379.6,311.1 L380.1,310.5 L380.6,310.0 L381.1,309.7 L381.6,309.3 L382.1,308.9 L382.6,308.7 L383.1,308.7 L383.6,308.8 L384.1,309.0 L384.6,309.6 L385.1,309.6 L385.6,309.9 L386.1,310.5 L386.6,310.6 L387.1,310.8 L387.6,310.9 L388.1,310.8 L388.6,311.3 L389.1,311.8 L389.6,312.3 L390.1,312.8 L390.6,313.1 L391.1,313.4 L391.6,313.4 L392.1,313.2 L392.6,312.9 L393.1,312.9 L393.6,312.7 L394.1,313.0 L394.6,313.4 L395.1,313.3 L395.6,312.9 L396.1,313.0 L396.6,313.3 L397.1,313.4 L397.6,313.1 L398.1,312.5 L398.6,312.5 L399.1,312.8 L399.6,312.9 L400.1,313.1 L400.6,313.3 L401.1,313.3 L401.6,313.2 L402.1,313.3 L402.6,313.3 L403.1,313.0 L403.6,312.9 L404.1,313.3 L404.6,313.3 L405.1,313.2 L405.6,313.0 L406.1,312.7 L406.6,313.0 L407.1,312.9 L407.6,313.0 L408.1,313.4 L408.6,313.4 L409.1,313.5 L409.6,313.8 L410.1,313.6 L410.6,312.9 L411.1,312.9 L411.6,313.1 L412.1,312.7 L412.6,312.3 L413.1,312.9 L413.6,313.4 L414.1,313.7 L414.6,313.7 L415.1,313.7 L415.6,313.9 L416.1,313.9 L416.6,313.9 L417.1,314.0 L417.6,314.0 L418.1,313.9 L418.6,314.2 L419.1,314.4 L419.6,314.0 L420.1,313.5 L420.6,313.9 L421.1,314.0 L421.6,314.0 L422.1,314.0 L422.6,313.9 L423.1,314.2 L423.6,314.1 L424.1,314.0 L424.6,314.2 L425.1,314.1 L425.6,313.9 L426.1,313.7 L426.6,314.1 L427.1,314.5 L427.6,314.3 L428.1,314.0 L428.6,314.4 L429.1,314.6 L429.6,314.3 L430.1,313.8 L430.6,313.4 L431.1,313.5 L431.6,313.7 L432.1,314.0 L432.6,314.0 L433.1,313.6 L433.6,313.3 L434.1,313.5 L434.6,313.7 L435.1,314.1 L435.6,314.0 L436.1,314.1 L436.6,314.1 L437.1,313.8 L437.6,313.8 L438.1,313.5 L438.6,313.0 L439.1,312.8 L439.6,312.9 L440.1,312.8 L440.6,312.3 L441.1,312.4 L441.6,312.3 L442.1,312.1 L442.6,312.1 L443.1,312.1 L443.6,312.2 L444.1,312.1 L444.6,311.9 L445.1,312.2 L445.6,311.9 L446.1,311.2 L446.6,310.8 L447.1,311.1 L447.6,311.4 L448.1,311.7 L448.6,312.0 L449.1,312.1 L449.6,311.8 L450.1,311.5 L450.6,311.0 L451.1,310.6 L451.6,310.2 L452.1,309.3 L452.6,308.5 L453.1,308.1 L453.6,308.1 L454.1,308.6 L454.6,309.2 L455.1,310.1 L455.6,311.2 L456.1,311.9 L456.6,312.7 L457.1,313.4 L457.6,313.7 L458.1,313.9 L458.6,314.8 L459.1,315.3 L459.6,315.6 L460.1,315.5 L460.6,314.9 L461.1,314.7 L461.6,315.1 L462.1,315.3 L462.6,315.1 L463.1,315.2 L463.6,315.4 L464.1,315.2 L464.6,315.4 L465.1,315.5 L465.6,315.4 L466.1,315.3 L466.6,315.1 L467.1,314.7 L467.6,314.8 L468.1,315.0 L468.6,315.1 L469.1,315.2 L469.6,315.4 L470.1,315.4 L470.6,315.4 L471.1,315.3 L471.6,315.4 L472.1,315.5 L472.6,315.7 L473.1,315.9 L473.6,315.6 L474.1,315.6 L474.6,315.6 L475.1,315.8 L475.6,316.1 L476.1,316.2 L476.6,316.2 L477.1,315.8 L477.6,315.7 L478.1,315.7 L478.6,315.7 L479.1,315.6 L479.6,315.6 L480.1,315.9 L480.6,316.1 L481.1,316.1 L481.6,316.0 L482.1,315.9 L482.6,315.8 L483.1,315.7 L483.6,316.0 L484.1,316.2 L484.6,316.2 L485.1,316.6 L485.6,316.6 L486.1,316.4 L486.6,316.5 L487.1,316.7 L487.6,316.8 L488.1,316.9 L488.6,317.2 L489.1,317.2 L489.6,316.6 L490.1,316.6 L490.6,316.4 L491.1,316.2 L491.6,316.5 L492.1,316.8 L492.6,316.7 L493.1,316.8 L493.6,317.1 L494.1,317.0 L494.6,317.0 L495.1,317.2 L495.6,317.0 L496.1,316.5 L496.6,316.4 L497.1,316.6 L497.6,317.0 L498.1,317.4 L498.6,317.5 L499.1,317.3 L499.6,317.1 L500.1,317.4 L500.6,317.2 L501.1,316.8 L501.6,316.8 L502.1,317.1 L502.6,317.4 L503.1,317.4 L503.6,317.3 L504.1,317.4 L504.6,317.1 L505.1,317.3 L505.6,317.7 L506.1,317.7 L506.6,317.4 L507.1,317.7 L507.6,318.0 L508.1,317.8 L508.6,317.7 L509.1,317.8 L509.6,317.6 L510.1,317.6 L510.6,317.6 L511.1,317.6 L511.6,317.8 L512.1,317.8 L512.6,317.6 L513.1,317.8 L513.6,318.1 L514.1,317.9 L514.6,318.0 L515.1,317.9 L515.6,317.8 L516.1,317.8 L516.6,318.1 L517.1,318.4 L517.6,318.8 L518.1,318.7 L518.6,318.2 L519.1,318.0 L519.6,317.7 L520.1,317.6 L520.6,318.2 L521.1,318.0 L521.6,317.6 L522.1,318.0 L522.6,318.6 L523.1,318.5 L523.6,318.3 L524.1,318.1 L524.6,317.8 L525.1,317.6 L525.6,317.7 L526.1,317.9 L526.6,318.0 L527.1,318.2 L527.6,318.3 L528.1,318.0 L528.6,317.6 L529.1,316.9 L529.6,316.6 L530.1,316.9 L530.6,316.7 L531.1,316.4 L531.6,315.9 L532.1,315.9 L532.6,316.4 L533.1,316.5 L533.6,316.9 L534.1,317.4 L534.6,318.0 L535.1,318.4 L535.6,318.5 L536.1,318.3 L536.6,318.6 L537.1,318.6 L537.6,318.9 L538.1,318.9 L538.6,318.7 L539.1,318.6 L539.6,318.5 L540.1,318.8 L540.6,319.1 L541.1,319.1 L541.6,319.1 L542.1,319.3 L542.6,319.5 L543.1,319.8 L543.6,319.5 L544.1,319.2 L544.6,319.1 L545.1,319.1 L545.6,319.1 L546.1,319.3 L546.6,319.5 L547.1,319.6 L547.6,319.5 L548.1,319.4 L548.6,319.2 L549.1,318.9 L549.6,318.7 L550.1,319.0 L550.6,319.5 L551.1,319.8 L551.6,319.3 L552.1,319.2 L552.6,319.1 L553.1,319.0 L553.6,319.3 L554.1,319.2 L554.6,318.8 L555.1,318.6 L555.6,318.9 L556.1,319.0 L556.6,319.3 L557.1,319.4 L557.6,319.5 L558.1,319.7 L558.6,320.2 L559.1,320.3 L559.6,320.3 L560.1,319.9 L560.6,319.4 L561.1,319.2 L561.6,319.4 L562.1,319.6 L562.6,319.7 L563.1,320.0 L563.6,319.7 L564.1,319.4 L564.6,319.2 L565.1,319.0 L565.6,319.4 L566.1,319.7 L566.6,319.6 L567.1,319.4 L567.6,319.5 L568.1,319.7 L568.6,319.7 L569.1,319.4 L569.6,319.7 L570.1,319.9 L570.6,319.6 L571.1,319.6 L571.6,320.0 L572.1,320.0 L572.6,320.1 L573.1,320.1 L573.6,319.9 L574.1,319.3 L574.6,318.9 L575.1,319.2 L575.6,319.4 L576.1,319.7 L576.6,319.9 L577.1,320.3 L577.6,320.3 L578.1,320.4 L578.6,320.4 L579.1,320.1 L579.6,320.0 L580.1,319.8 L580.6,319.9 L581.1,320.2 L581.6,319.9 L582.1,319.6 L582.6,319.9 L583.1,320.1 L583.6,320.0 L584.1,319.8 L584.6,319.4 L585.1,319.2 L585.6,319.8 L586.1,320.1 L586.6,319.5 L587.1,319.3 L587.6,319.6 L588.1,319.3 L588.6,318.6 L589.1,318.8 L589.6,319.0 L590.1,319.4 L590.6,320.0 L591.1,320.0 L591.6,319.7 L592.1,319.7 L592.6,319.8 L593.1,319.5 L593.6,319.4 L594.1,319.4 L594.6,319.5 L595.1,319.4 L595.6,319.4 L596.1,319.8 L596.6,320.0 L597.1,320.1 L597.6,319.7 L598.1,319.5 L598.6,319.5 L599.1,319.8 L599.6,319.7 L600.1,319.9 L600.6,320.4 L601.1,320.4 L601.6,320.3 L602.1,320.3 L602.6,320.2 L603.1,320.1 L603.6,319.6 L604.1,319.4 L604.6,319.7 L605.1,319.7 L605.6,320.1 L606.1,320.3 L606.6,320.7 L607.1,320.5 L607.6,320.1 L608.1,319.9 L608.6,319.5 L609.1,319.6 L609.6,319.6 L610.1,319.4 L610.6,319.0 L611.1,319.0 L611.6,319.6 L612.1,319.7 L612.6,319.5 L613.1,319.4 L613.6,319.3 L614.1,319.3 L614.6,319.5 L615.1,319.4 L615.6,319.3 L616.1,318.8 L616.6,318.5 L617.1,318.6 L617.6,318.6 L618.1,318.3 L618.6,318.3 L619.1,318.4 L619.6,318.7 L620.1,318.9 L620.6,318.9 L621.1,318.8 L621.6,319.1 L622.1,319.5 L622.6,319.4 L623.1,319.2 L623.6,319.2 L624.1,319.5 L624.6,319.7 L625.1,319.8 L625.6,319.8 L626.1,320.0 L626.6,319.6 L627.1,319.3 L627.6,319.5 L628.1,319.8 L628.6,319.8 L629.1,319.5 L629.6,319.4 L630.1,319.4 L630.6,319.3 L631.1,319.2 L631.6,319.7 L632.1,319.8 L632.6,319.4 L633.1,319.2 L633.6,319.2 L634.1,319.3 L634.6,319.6 L635.1,319.6 L635.6,319.6 L636.1,319.4 L636.6,319.3 L637.1,319.3 L637.6,319.6 L638.1,320.1 L638.6,320.4 L639.1,320.3 L639.6,320.0 L640.1,319.7 L640.6,320.0 L641.1,320.1 L641.6,320.6 L642.1,320.8 L642.6,320.4 L643.1,320.2 L643.6,320.0 L644.1,319.6 L644.6,319.6 L645.1,319.8 L645.6,320.2 L646.1,320.4 L646.6,320.5 L647.1,320.5 L647.6,320.2 L648.1,320.0 L648.6,320.3 L649.1,320.3 L649.6,320.3 L650.1,320.5 L650.6,320.4 L651.1,320.3 L651.6,320.5 L652.1,320.5 L652.6,320.8 L653.1,321.0 L653.6,321.0 L654.1,320.8 L654.6,320.5 L655.1,320.4 L655.6,320.6 L656.1,320.8 L656.6,320.7 L657.1,320.5 L657.6,320.6 L658.1,320.5 L658.6,320.1 L659.1,320.2 L659.6,320.5 L660.1,320.3 L660.6,320.3 L661.1,320.7 L661.6,320.9 L662.1,321.1 L662.6,321.1 L663.1,321.4 L663.6,321.9 L664.1,321.5 L664.6,320.7 L665.1,320.5 L665.6,320.7 L666.1,320.8 L666.6,320.8 L667.1,321.3 L667.6,321.8 L668.1,321.7 L668.6,321.3 L669.1,321.2 L669.6,321.3 L670.1,321.5 L670.6,321.8 L671.1,321.6" fill="none" stroke="#a767d9" stroke-width="2.8" stroke-linejoin="round" stroke-linecap="butt"/>
<path d="M37.6,243.0 L38.1,241.5 L38.6,241.8 L39.1,242.0 L39.6,242.0 L40.1,241.7 L40.6,241.2 L41.1,241.6 L41.6,242.5 L42.1,243.8 L42.6,243.1 L43.1,242.3 L43.6,242.2 L44.1,242.0 L44.6,241.9 L45.1,242.2 L45.6,242.5 L46.1,242.3 L46.6,242.3 L47.1,241.8 L47.6,241.9 L48.1,242.4 L48.6,242.0 L49.1,241.4 L49.6,241.5 L50.1,242.2 L50.6,242.5 L51.1,241.8 L51.6,241.5 L52.1,241.6 L52.6,241.1 L53.1,241.3 L53.6,242.0 L54.1,242.2 L54.6,242.0 L55.1,241.4 L55.6,240.5 L56.1,241.0 L56.6,240.5 L57.1,240.0 L57.6,240.7 L58.1,241.0 L58.6,240.4 L59.1,240.1 L59.6,240.5 L60.1,241.1 L60.6,241.6 L61.1,241.5 L61.6,241.2 L62.1,241.2 L62.6,240.5 L63.1,240.2 L63.6,240.7 L64.1,240.8 L64.6,240.3 L65.1,239.9 L65.6,239.5 L66.1,238.9 L66.6,239.5 L67.1,239.4 L67.6,238.6 L68.1,238.6 L68.6,238.6 L69.1,238.5 L69.6,237.7 L70.1,238.0 L70.6,239.0 L71.1,238.9 L71.6,237.7 L72.1,237.9 L72.6,238.4 L73.1,238.5 L73.6,238.6 L74.1,237.9 L74.6,237.7 L75.1,237.6 L75.6,238.2 L76.1,237.8 L76.6,237.0 L77.1,236.9 L77.6,237.9 L78.1,238.0 L78.6,237.8 L79.1,237.5 L79.6,236.8 L80.1,235.9 L80.6,235.4 L81.1,235.6 L81.6,235.8 L82.1,234.9 L82.6,234.7 L83.1,235.0 L83.6,235.4 L84.1,235.1 L84.6,234.2 L85.1,233.8 L85.6,234.6 L86.1,235.3 L86.6,235.0 L87.1,234.3 L87.6,233.7 L88.1,233.5 L88.6,233.3 L89.1,233.1 L89.6,232.4 L90.1,232.2 L90.6,232.0 L91.1,231.9 L91.6,232.0 L92.1,232.5 L92.6,232.0 L93.1,230.5 L93.6,228.4 L94.1,227.5 L94.6,226.8 L95.1,225.4 L95.6,223.3 L96.1,221.8 L96.6,218.2 L97.1,211.9 L97.6,205.2 L98.1,200.5 L98.6,201.5 L99.1,207.3 L99.6,213.4 L100.1,217.2 L100.6,219.8 L101.1,221.7 L101.6,223.0 L102.1,223.5 L102.6,223.5 L103.1,222.8 L103.6,222.9 L104.1,223.4 L104.6,224.3 L105.1,224.2 L105.6,223.6 L106.1,223.4 L106.6,223.6 L107.1,223.3 L107.6,223.4 L108.1,224.6 L108.6,225.4 L109.1,224.4 L109.6,223.5 L110.1,223.0 L110.6,223.0 L111.1,223.7 L111.6,223.8 L112.1,223.1 L112.6,222.5 L113.1,221.6 L113.6,220.4 L114.1,218.9 L114.6,218.1 L115.1,217.4 L115.6,216.4 L116.1,215.7 L116.6,215.5 L117.1,216.1 L117.6,217.1 L118.1,217.7 L118.6,218.8 L119.1,220.4 L119.6,221.8 L120.1,222.5 L120.6,222.5 L121.1,223.6 L121.6,224.3 L122.1,224.9 L122.6,225.7 L123.1,226.2 L123.6,226.2 L124.1,226.2 L124.6,226.5 L125.1,226.2 L125.6,226.4 L126.1,227.0 L126.6,227.5 L127.1,228.6 L127.6,229.1 L128.1,229.1 L128.6,228.2 L129.1,227.7 L129.6,227.9 L130.1,227.9 L130.6,227.5 L131.1,227.5 L131.6,227.9 L132.1,228.2 L132.6,227.8 L133.1,227.8 L133.6,227.3 L134.1,226.7 L134.6,226.5 L135.1,226.5 L135.6,227.1 L136.1,227.6 L136.6,227.5 L137.1,227.7 L137.6,227.9 L138.1,227.2 L138.6,226.5 L139.1,225.7 L139.6,225.2 L140.1,225.3 L140.6,225.0 L141.1,225.5 L141.6,226.0 L142.1,226.2 L142.6,225.7 L143.1,225.3 L143.6,225.4 L144.1,225.3 L144.6,225.3 L145.1,225.4 L145.6,225.3 L146.1,225.0 L146.6,224.6 L147.1,224.2 L147.6,223.6 L148.1,223.9 L148.6,224.2 L149.1,225.0 L149.6,224.7 L150.1,223.5 L150.6,223.5 L151.1,223.3 L151.6,223.0 L152.1,223.1 L152.6,222.5 L153.1,221.8 L153.6,222.0 L154.1,222.2 L154.6,221.9 L155.1,221.5 L155.6,221.9 L156.1,221.7 L156.6,220.6 L157.1,220.3 L157.6,220.4 L158.1,220.7 L158.6,221.2 L159.1,220.4 L159.6,219.3 L160.1,219.1 L160.6,219.7 L161.1,220.2 L161.6,219.3 L162.1,218.8 L162.6,218.6 L163.1,218.6 L163.6,218.6 L164.1,217.6 L164.6,217.1 L165.1,216.7 L165.6,216.1 L166.1,215.5 L166.6,215.7 L167.1,215.1 L167.6,214.4 L168.1,213.9 L168.6,214.2 L169.1,215.2 L169.6,215.9 L170.1,216.4 L170.6,216.8 L171.1,216.9 L171.6,217.0 L172.1,217.6 L172.6,217.9 L173.1,218.2 L173.6,219.0 L174.1,219.5 L174.6,219.3 L175.1,219.3 L175.6,220.2 L176.1,220.9 L176.6,220.6 L177.1,220.8 L177.6,221.5 L178.1,222.0 L178.6,221.7 L179.1,222.6 L179.6,223.2 L180.1,223.0 L180.6,223.6 L181.1,223.5 L181.6,223.0 L182.1,222.9 L182.6,222.6 L183.1,223.3 L183.6,224.1 L184.1,224.0 L184.6,224.5 L185.1,224.4 L185.6,224.4 L186.1,223.7 L186.6,222.8 L187.1,223.2 L187.6,223.6 L188.1,223.1 L188.6,222.8 L189.1,223.0 L189.6,222.3 L190.1,221.4 L190.6,221.6 L191.1,222.1 L191.6,222.0 L192.1,222.4 L192.6,222.5 L193.1,221.4 L193.6,220.1 L194.1,219.6 L194.6,219.9 L195.1,220.2 L195.6,219.8 L196.1,219.4 L196.6,218.8 L197.1,218.5 L197.6,217.9 L198.1,217.2 L198.6,216.3 L199.1,215.7 L199.6,215.7 L200.1,215.3 L200.6,215.2 L201.1,215.5 L201.6,215.7 L202.1,216.0 L202.6,214.8 L203.1,213.5 L203.6,213.4 L204.1,213.2 L204.6,213.0 L205.1,213.5 L205.6,212.9 L206.1,212.8 L206.6,214.6 L207.1,216.1 L207.6,217.4 L208.1,217.7 L208.6,218.4 L209.1,220.0 L209.6,220.4 L210.1,221.6 L210.6,223.1 L211.1,223.5 L211.6,224.0 L212.1,225.0 L212.6,225.8 L213.1,226.3 L213.6,227.5 L214.1,229.0 L214.6,230.0 L215.1,229.8 L215.6,230.0 L216.1,230.9 L216.6,231.3 L217.1,231.6 L217.6,232.1 L218.1,232.4 L218.6,231.9 L219.1,231.1 L219.6,229.8 L220.1,229.5 L220.6,228.7 L221.1,225.8 L221.6,222.5 L222.1,220.4 L222.6,220.5 L223.1,221.8 L223.6,224.1 L224.1,227.4 L224.6,230.2 L225.1,232.1 L225.6,233.5 L226.1,235.0 L226.6,235.4 L227.1,235.2 L227.6,235.3 L228.1,235.8 L228.6,236.4 L229.1,236.6 L229.6,237.1 L230.1,237.1 L230.6,236.7 L231.1,235.3 L231.6,232.5 L232.1,229.3 L232.6,226.6 L233.1,223.6 L233.6,221.4 L234.1,222.1 L234.6,225.1 L235.1,229.3 L235.6,233.6 L236.1,237.4 L236.6,239.4 L237.1,240.2 L237.6,240.8 L238.1,242.0 L238.6,243.1 L239.1,243.0 L239.6,242.8 L240.1,243.7 L240.6,244.3 L241.1,244.4 L241.6,244.7 L242.1,245.1 L242.6,245.3 L243.1,245.2 L243.6,245.2 L244.1,245.8 L244.6,246.1 L245.1,246.0 L245.6,245.2 L246.1,245.9 L246.6,246.6 L247.1,246.5 L247.6,247.0 L248.1,247.5 L248.6,247.5 L249.1,247.3 L249.6,247.8 L250.1,248.7 L250.6,249.0 L251.1,248.6 L251.6,248.4 L252.1,248.6 L252.6,248.5 L253.1,247.7 L253.6,247.4 L254.1,247.6 L254.6,247.5 L255.1,247.6 L255.6,248.1 L256.1,248.1 L256.6,247.7 L257.1,247.7 L257.6,247.2 L258.1,247.2 L258.6,246.7 L259.1,246.8 L259.6,247.5 L260.1,247.4 L260.6,247.3 L261.1,247.6 L261.6,248.1 L262.1,248.2 L262.6,248.3 L263.1,248.5 L263.6,248.0 L264.1,247.7 L264.6,248.0 L265.1,248.7 L265.6,248.9 L266.1,248.6 L266.6,247.9 L267.1,247.4 L267.6,247.1 L268.1,246.4 L268.6,246.2 L269.1,245.8 L269.6,245.3 L270.1,245.7 L270.6,246.8 L271.1,248.5 L271.6,249.4 L272.1,249.0 L272.6,248.5 L273.1,248.2 L273.6,248.9 L274.1,249.1 L274.6,248.9 L275.1,249.0 L275.6,248.6 L276.1,248.7 L276.6,248.9 L277.1,248.9 L277.6,249.6 L278.1,249.6 L278.6,248.8 L279.1,248.7 L279.6,249.4 L280.1,249.4 L280.6,249.0 L281.1,249.2 L281.6,249.4 L282.1,249.7 L282.6,250.1 L283.1,250.5 L283.6,251.1 L284.1,251.2 L284.6,251.2 L285.1,251.4 L285.6,251.6 L286.1,251.3 L286.6,250.8 L287.1,251.3 L287.6,251.6 L288.1,251.8 L288.6,251.5 L289.1,251.4 L289.6,251.6 L290.1,251.9 L290.6,251.6 L291.1,251.5 L291.6,251.7 L292.1,251.8 L292.6,252.0 L293.1,252.2 L293.6,252.5 L294.1,252.8 L294.6,252.2 L295.1,252.0 L295.6,252.2 L296.1,252.3 L296.6,252.1 L297.1,252.3 L297.6,252.9 L298.1,253.2 L298.6,253.0 L299.1,252.6 L299.6,252.5 L300.1,253.0 L300.6,253.3 L301.1,253.0 L301.6,252.9 L302.1,252.8 L302.6,252.5 L303.1,252.5 L303.6,252.7 L304.1,252.9 L304.6,252.7 L305.1,252.7 L305.6,253.4 L306.1,253.6 L306.6,253.1 L307.1,253.0 L307.6,253.0 L308.1,252.8 L308.6,252.6 L309.1,253.1 L309.6,253.2 L310.1,253.5 L310.6,253.4 L311.1,253.3 L311.6,253.6 L312.1,253.8 L312.6,253.5 L313.1,253.4 L313.6,253.3 L314.1,253.2 L314.6,253.8 L315.1,253.8 L315.6,253.5 L316.1,253.3 L316.6,252.8 L317.1,253.0 L317.6,253.5 L318.1,252.9 L318.6,251.5 L319.1,251.0 L319.6,251.8 L320.1,252.6 L320.6,252.6 L321.1,252.8 L321.6,253.1 L322.1,253.2 L322.6,253.6 L323.1,254.0 L323.6,254.1 L324.1,254.0 L324.6,253.8 L325.1,253.8 L325.6,253.9 L326.1,254.3 L326.6,254.3 L327.1,253.3 L327.6,252.6 L328.1,253.0 L328.6,253.7 L329.1,254.0 L329.6,253.9 L330.1,253.4 L330.6,253.4 L331.1,253.7 L331.6,253.5 L332.1,253.7 L332.6,253.6 L333.1,253.8 L333.6,253.8 L334.1,253.8 L334.6,253.6 L335.1,253.3 L335.6,253.4 L336.1,253.5 L336.6,253.6 L337.1,253.5 L337.6,253.0 L338.1,252.5 L338.6,252.3 L339.1,252.4 L339.6,252.6 L340.1,252.4 L340.6,252.6 L341.1,252.4 L341.6,251.9 L342.1,251.6 L342.6,251.8 L343.1,251.8 L343.6,251.5 L344.1,252.0 L344.6,252.3 L345.1,252.2 L345.6,252.4 L346.1,252.8 L346.6,252.4 L347.1,251.7 L347.6,251.6 L348.1,251.5 L348.6,251.2 L349.1,250.8 L349.6,251.2 L350.1,251.1 L350.6,251.1 L351.1,251.0 L351.6,250.8 L352.1,250.2 L352.6,249.6 L353.1,249.3 L353.6,248.5 L354.1,247.1 L354.6,245.6 L355.1,243.4 L355.6,241.4 L356.1,240.2 L356.6,239.8 L357.1,241.1 L357.6,242.9 L358.1,244.7 L358.6,246.1 L359.1,247.6 L359.6,248.9 L360.1,249.5 L360.6,249.7 L361.1,249.9 L361.6,250.1 L362.1,249.9 L362.6,250.1 L363.1,250.4 L363.6,250.6 L364.1,250.8 L364.6,251.1 L365.1,251.3 L365.6,251.5 L366.1,251.9 L366.6,252.0 L367.1,251.7 L367.6,251.3 L368.1,250.8 L368.6,250.6 L369.1,250.6 L369.6,250.5 L370.1,250.9 L370.6,251.5 L371.1,251.8 L371.6,251.5 L372.1,251.1 L372.6,251.0 L373.1,251.0 L373.6,251.2 L374.1,251.3 L374.6,251.6 L375.1,252.0 L375.6,251.9 L376.1,251.8 L376.6,251.2 L377.1,250.9 L377.6,251.1 L378.1,250.9 L378.6,250.1 L379.1,249.5 L379.6,248.9 L380.1,248.7 L380.6,248.6 L381.1,248.0 L381.6,247.4 L382.1,247.0 L382.6,247.3 L383.1,247.5 L383.6,247.6 L384.1,247.6 L384.6,247.9 L385.1,248.7 L385.6,249.0 L386.1,249.2 L386.6,249.5 L387.1,249.4 L387.6,249.8 L388.1,250.3 L388.6,250.7 L389.1,251.0 L389.6,250.8 L390.1,250.4 L390.6,250.7 L391.1,251.1 L391.6,251.0 L392.1,250.7 L392.6,250.7 L393.1,251.2 L393.6,251.4 L394.1,251.2 L394.6,251.2 L395.1,251.4 L395.6,251.0 L396.1,251.5 L396.6,252.1 L397.1,251.9 L397.6,251.6 L398.1,251.5 L398.6,251.7 L399.1,251.5 L399.6,251.6 L400.1,251.6 L400.6,251.5 L401.1,251.6 L401.6,251.3 L402.1,251.2 L402.6,251.4 L403.1,251.5 L403.6,251.7 L404.1,251.8 L404.6,251.6 L405.1,251.4 L405.6,251.4 L406.1,251.6 L406.6,251.9 L407.1,251.9 L407.6,251.9 L408.1,251.9 L408.6,251.8 L409.1,252.0 L409.6,251.8 L410.1,252.0 L410.6,252.1 L411.1,251.7 L411.6,251.5 L412.1,251.2 L412.6,251.2 L413.1,251.2 L413.6,251.4 L414.1,251.7 L414.6,252.1 L415.1,252.5 L415.6,252.4 L416.1,252.4 L416.6,252.2 L417.1,252.0 L417.6,251.8 L418.1,251.7 L418.6,252.1 L419.1,252.6 L419.6,252.4 L420.1,252.3 L420.6,252.5 L421.1,252.3 L421.6,252.1 L422.1,252.1 L422.6,252.3 L423.1,252.8 L423.6,253.2 L424.1,252.8 L424.6,252.4 L425.1,252.4 L425.6,252.4 L426.1,252.2 L426.6,252.6 L427.1,252.8 L427.6,252.8 L428.1,252.7 L428.6,252.3 L429.1,252.3 L429.6,253.0 L430.1,252.9 L430.6,252.5 L431.1,252.5 L431.6,252.6 L432.1,252.7 L432.6,252.6 L433.1,252.4 L433.6,252.5 L434.1,252.4 L434.6,252.1 L435.1,251.5 L435.6,251.2 L436.1,251.4 L436.6,251.5 L437.1,251.9 L437.6,252.0 L438.1,251.8 L438.6,251.5 L439.1,251.5 L439.6,251.5 L440.1,251.2 L440.6,251.2 L441.1,251.1 L441.6,250.9 L442.1,250.7 L442.6,250.2 L443.1,249.9 L443.6,249.4 L444.1,249.1 L444.6,249.0 L445.1,249.1 L445.6,249.1 L446.1,249.2 L446.6,249.4 L447.1,250.1 L447.6,250.5 L448.1,250.5 L448.6,250.6 L449.1,250.6 L449.6,250.5 L450.1,249.7 L450.6,248.9 L451.1,248.6 L451.6,247.7 L452.1,246.7 L452.6,246.1 L453.1,245.9 L453.6,246.5 L454.1,247.4 L454.6,248.8 L455.1,249.6 L455.6,249.8 L456.1,250.4 L456.6,251.1 L457.1,251.5 L457.6,252.2 L458.1,252.6 L458.6,252.7 L459.1,253.0 L459.6,253.5 L460.1,253.9 L460.6,254.0 L461.1,253.9 L461.6,253.8 L462.1,253.7 L462.6,253.8 L463.1,253.8 L463.6,253.9 L464.1,253.7 L464.6,253.7 L465.1,254.0 L465.6,254.1 L466.1,253.9 L466.6,254.0 L467.1,254.2 L467.6,254.2 L468.1,254.0 L468.6,254.1 L469.1,254.2 L469.6,254.5 L470.1,254.2 L470.6,253.6 L471.1,253.5 L471.6,254.1 L472.1,254.6 L472.6,254.7 L473.1,254.7 L473.6,254.4 L474.1,254.3 L474.6,254.7 L475.1,254.9 L475.6,254.8 L476.1,254.5 L476.6,254.5 L477.1,254.6 L477.6,254.7 L478.1,254.4 L478.6,254.2 L479.1,254.4 L479.6,254.8 L480.1,254.8 L480.6,254.6 L481.1,254.6 L481.6,254.9 L482.1,255.2 L482.6,254.7 L483.1,254.8 L483.6,255.3 L484.1,255.5 L484.6,255.3 L485.1,255.4 L485.6,255.5 L486.1,255.4 L486.6,255.3 L487.1,255.4 L487.6,255.4 L488.1,255.3 L488.6,255.1 L489.1,255.2 L489.6,254.9 L490.1,254.9 L490.6,255.3 L491.1,255.3 L491.6,255.2 L492.1,255.2 L492.6,255.4 L493.1,255.1 L493.6,254.8 L494.1,255.0 L494.6,255.1 L495.1,255.0 L495.6,255.4 L496.1,255.8 L496.6,255.6 L497.1,255.3 L497.6,255.2 L498.1,255.3 L498.6,254.8 L499.1,254.5 L499.6,255.0 L500.1,255.4 L500.6,255.9 L501.1,255.7 L501.6,255.3 L502.1,255.3 L502.6,255.5 L503.1,255.5 L503.6,255.5 L504.1,255.6 L504.6,255.7 L505.1,255.8 L505.6,255.9 L506.1,256.2 L506.6,256.1 L507.1,255.9 L507.6,256.3 L508.1,256.3 L508.6,256.0 L509.1,255.7 L509.6,255.7 L510.1,255.7 L510.6,255.7 L511.1,255.9 L511.6,255.9 L512.1,255.7 L512.6,256.0 L513.1,256.4 L513.6,256.4 L514.1,256.2 L514.6,256.2 L515.1,256.1 L515.6,255.8 L516.1,256.0 L516.6,256.4 L517.1,256.3 L517.6,256.1 L518.1,256.2 L518.6,256.7 L519.1,256.8 L519.6,256.5 L520.1,256.3 L520.6,256.3 L521.1,256.7 L521.6,256.6 L522.1,256.4 L522.6,256.7 L523.1,256.8 L523.6,256.8 L524.1,256.7 L524.6,256.5 L525.1,256.5 L525.6,256.6 L526.1,256.4 L526.6,256.3 L527.1,256.5 L527.6,256.0 L528.1,255.5 L528.6,255.2 L529.1,255.3 L529.6,255.1 L530.1,254.7 L530.6,254.3 L531.1,253.9 L531.6,254.0 L532.1,254.4 L532.6,254.8 L533.1,255.0 L533.6,255.2 L534.1,255.9 L534.6,255.8 L535.1,255.9 L535.6,256.2 L536.1,256.3 L536.6,256.0 L537.1,255.5 L537.6,255.9 L538.1,256.4 L538.6,256.3 L539.1,256.0 L539.6,256.1 L540.1,256.8 L540.6,256.9 L541.1,256.7 L541.6,256.8 L542.1,256.8 L542.6,256.7 L543.1,256.8 L543.6,257.0 L544.1,257.2 L544.6,257.2 L545.1,256.9 L545.6,256.7 L546.1,256.7 L546.6,256.5 L547.1,256.6 L547.6,257.0 L548.1,257.0 L548.6,257.1 L549.1,257.1 L549.6,256.9 L550.1,257.1 L550.6,257.1 L551.1,256.9 L551.6,256.8 L552.1,256.5 L552.6,256.2 L553.1,256.5 L553.6,256.7 L554.1,257.0 L554.6,257.0 L555.1,256.8 L555.6,257.0 L556.1,257.4 L556.6,257.4 L557.1,257.2 L557.6,257.1 L558.1,257.0 L558.6,257.1 L559.1,257.3 L559.6,257.2 L560.1,257.1 L560.6,256.7 L561.1,256.5 L561.6,256.6 L562.1,257.1 L562.6,257.7 L563.1,257.6 L563.6,257.0 L564.1,256.9 L564.6,257.3 L565.1,257.3 L565.6,257.0 L566.1,257.3 L566.6,257.4 L567.1,257.5 L567.6,257.4 L568.1,257.4 L568.6,257.2 L569.1,256.9 L569.6,256.8 L570.1,256.9 L570.6,257.0 L571.1,256.6 L571.6,256.6 L572.1,257.2 L572.6,257.6 L573.1,257.8 L573.6,257.5 L574.1,257.0 L574.6,257.0 L575.1,257.1 L575.6,257.1 L576.1,256.9 L576.6,257.3 L577.1,257.5 L577.6,257.3 L578.1,257.5 L578.6,257.7 L579.1,257.6 L579.6,257.7 L580.1,257.7 L580.6,257.6 L581.1,257.5 L581.6,257.5 L582.1,257.7 L582.6,257.5 L583.1,257.5 L583.6,257.7 L584.1,257.6 L584.6,257.8 L585.1,258.0 L585.6,257.8 L586.1,257.8 L586.6,257.9 L587.1,257.7 L587.6,257.2 L588.1,257.2 L588.6,257.6 L589.1,257.3 L589.6,256.7 L590.1,256.8 L590.6,257.1 L591.1,257.3 L591.6,257.5 L592.1,257.6 L592.6,257.4 L593.1,257.3 L593.6,257.6 L594.1,257.9 L594.6,257.7 L595.1,258.0 L595.6,258.1 L596.1,257.9 L596.6,257.5 L597.1,257.1 L597.6,257.1 L598.1,257.5 L598.6,257.8 L599.1,257.9 L599.6,257.9 L600.1,257.8 L600.6,257.4 L601.1,257.2 L601.6,257.5 L602.1,257.7 L602.6,257.5 L603.1,257.2 L603.6,257.2 L604.1,257.2 L604.6,257.3 L605.1,257.3 L605.6,257.4 L606.1,257.6 L606.6,257.7 L607.1,257.6 L607.6,257.0 L608.1,256.8 L608.6,257.5 L609.1,258.0 L609.6,258.1 L610.1,257.8 L610.6,257.7 L611.1,257.4 L611.6,257.1 L612.1,257.1 L612.6,257.3 L613.1,257.4 L613.6,257.6 L614.1,257.2 L614.6,257.2 L615.1,257.5 L615.6,257.2 L616.1,256.8 L616.6,256.8 L617.1,257.1 L617.6,257.5 L618.1,257.3 L618.6,256.9 L619.1,256.6 L619.6,256.6 L620.1,256.3 L620.6,256.0 L621.1,256.2 L621.6,256.7 L622.1,257.2 L622.6,257.4 L623.1,257.8 L623.6,258.1 L624.1,257.6 L624.6,257.5 L625.1,258.0 L625.6,258.0 L626.1,257.9 L626.6,257.9 L627.1,257.9 L627.6,257.9 L628.1,257.9 L628.6,257.8 L629.1,257.5 L629.6,257.4 L630.1,257.6 L630.6,257.8 L631.1,257.9 L631.6,257.8 L632.1,257.7 L632.6,257.7 L633.1,257.5 L633.6,257.3 L634.1,257.4 L634.6,257.6 L635.1,257.9 L635.6,258.2 L636.1,258.4 L636.6,258.6 L637.1,258.7 L637.6,258.6 L638.1,258.3 L638.6,258.5 L639.1,258.4 L639.6,258.1 L640.1,258.3 L640.6,258.5 L641.1,258.5 L641.6,258.6 L642.1,258.5 L642.6,258.4 L643.1,258.2 L643.6,258.2 L644.1,258.2 L644.6,258.1 L645.1,257.8 L645.6,258.2 L646.1,258.5 L646.6,258.4 L647.1,258.3 L647.6,258.3 L648.1,258.1 L648.6,258.1 L649.1,258.3 L649.6,258.6 L650.1,258.8 L650.6,258.7 L651.1,258.7 L651.6,258.4 L652.1,258.5 L652.6,258.8 L653.1,258.9 L653.6,258.4 L654.1,258.0 L654.6,258.3 L655.1,258.3 L655.6,258.0 L656.1,258.0 L656.6,258.2 L657.1,258.5 L657.6,258.5 L658.1,258.4 L658.6,258.8 L659.1,258.7 L659.6,258.5 L660.1,258.7 L660.6,259.0 L661.1,259.4 L661.6,259.2 L662.1,258.7 L662.6,258.5 L663.1,258.5 L663.6,258.6 L664.1,258.7 L664.6,258.7 L665.1,259.0 L665.6,258.9 L666.1,258.9 L666.6,258.9 L667.1,258.5 L667.6,258.6 L668.1,259.1 L668.6,259.2 L669.1,259.3 L669.6,259.3 L670.1,259.3 L670.6,259.2 L671.1,259.0" fill="none" stroke="#2f9e62" stroke-width="2.5" stroke-linejoin="round" stroke-linecap="butt"/>
<path d="M37.6,166.6 L38.1,166.0 L38.6,165.2 L39.1,164.8 L39.6,166.0 L40.1,166.1 L40.6,165.5 L41.1,165.6 L41.6,165.6 L42.1,165.5 L42.6,165.8 L43.1,165.4 L43.6,165.0 L44.1,165.0 L44.6,165.5 L45.1,165.7 L45.6,165.9 L46.1,165.8 L46.6,165.7 L47.1,165.7 L47.6,166.1 L48.1,165.9 L48.6,165.6 L49.1,165.3 L49.6,165.0 L50.1,165.9 L50.6,166.2 L51.1,164.7 L51.6,164.0 L52.1,164.4 L52.6,165.4 L53.1,165.5 L53.6,165.6 L54.1,165.3 L54.6,164.8 L55.1,164.5 L55.6,164.4 L56.1,164.4 L56.6,163.8 L57.1,164.0 L57.6,164.8 L58.1,165.1 L58.6,164.2 L59.1,163.6 L59.6,164.0 L60.1,164.5 L60.6,164.4 L61.1,164.2 L61.6,163.6 L62.1,164.4 L62.6,164.5 L63.1,163.8 L63.6,164.3 L64.1,164.8 L64.6,164.7 L65.1,165.0 L65.6,165.3 L66.1,164.4 L66.6,163.6 L67.1,163.7 L67.6,164.1 L68.1,164.0 L68.6,163.7 L69.1,163.6 L69.6,163.4 L70.1,162.4 L70.6,161.6 L71.1,161.8 L71.6,163.3 L72.1,164.0 L72.6,164.2 L73.1,163.6 L73.6,163.0 L74.1,163.0 L74.6,162.5 L75.1,161.9 L75.6,162.4 L76.1,163.5 L76.6,163.5 L77.1,163.0 L77.6,162.5 L78.1,162.3 L78.6,162.6 L79.1,162.3 L79.6,161.9 L80.1,162.0 L80.6,162.1 L81.1,162.7 L81.6,163.0 L82.1,162.6 L82.6,162.7 L83.1,162.1 L83.6,161.7 L84.1,161.3 L84.6,161.3 L85.1,161.3 L85.6,160.9 L86.1,160.5 L86.6,160.4 L87.1,160.2 L87.6,160.1 L88.1,160.6 L88.6,161.1 L89.1,161.2 L89.6,161.1 L90.1,160.9 L90.6,159.6 L91.1,158.7 L91.6,158.6 L92.1,157.6 L92.6,157.2 L93.1,156.4 L93.6,155.7 L94.1,154.8 L94.6,154.6 L95.1,153.5 L95.6,151.8 L96.1,149.8 L96.6,144.5 L97.1,135.4 L97.6,124.2 L98.1,115.6 L98.6,116.6 L99.1,126.1 L99.6,136.0 L100.1,142.6 L100.6,146.6 L101.1,148.7 L101.6,149.6 L102.1,150.7 L102.6,151.8 L103.1,152.9 L103.6,153.4 L104.1,153.1 L104.6,153.3 L105.1,153.8 L105.6,154.5 L106.1,154.2 L106.6,153.8 L107.1,153.2 L107.6,153.0 L108.1,153.3 L108.6,153.3 L109.1,153.2 L109.6,152.9 L110.1,153.5 L110.6,153.9 L111.1,154.6 L111.6,154.6 L112.1,154.4 L112.6,153.8 L113.1,153.6 L113.6,153.1 L114.1,152.6 L114.6,152.3 L115.1,151.9 L115.6,151.8 L116.1,151.8 L116.6,151.5 L117.1,150.9 L117.6,150.5 L118.1,151.0 L118.6,151.6 L119.1,152.1 L119.6,153.4 L120.1,154.0 L120.6,154.6 L121.1,155.6 L121.6,156.0 L122.1,155.8 L122.6,155.6 L123.1,156.2 L123.6,156.4 L124.1,156.5 L124.6,157.3 L125.1,157.4 L125.6,156.9 L126.1,157.4 L126.6,157.9 L127.1,158.8 L127.6,158.7 L128.1,157.7 L128.6,157.4 L129.1,157.8 L129.6,158.2 L130.1,158.8 L130.6,158.6 L131.1,158.2 L131.6,157.9 L132.1,157.5 L132.6,158.4 L133.1,159.1 L133.6,158.8 L134.1,158.8 L134.6,159.5 L135.1,160.0 L135.6,159.1 L136.1,158.5 L136.6,158.7 L137.1,158.1 L137.6,158.4 L138.1,158.6 L138.6,158.7 L139.1,158.5 L139.6,158.8 L140.1,158.1 L140.6,156.7 L141.1,156.4 L141.6,157.4 L142.1,158.3 L142.6,158.0 L143.1,157.7 L143.6,157.6 L144.1,157.9 L144.6,157.8 L145.1,157.3 L145.6,157.0 L146.1,157.7 L146.6,157.6 L147.1,157.0 L147.6,157.7 L148.1,157.2 L148.6,155.8 L149.1,155.2 L149.6,155.9 L150.1,156.0 L150.6,155.1 L151.1,154.8 L151.6,155.5 L152.1,155.4 L152.6,155.8 L153.1,157.3 L153.6,157.3 L154.1,156.1 L154.6,155.1 L155.1,154.6 L155.6,153.8 L156.1,154.1 L156.6,154.1 L157.1,153.7 L157.6,153.8 L158.1,154.5 L158.6,154.5 L159.1,154.5 L159.6,154.3 L160.1,153.4 L160.6,152.6 L161.1,152.3 L161.6,152.9 L162.1,153.2 L162.6,152.8 L163.1,152.3 L163.6,151.5 L164.1,151.3 L164.6,151.2 L165.1,151.6 L165.6,152.7 L166.1,152.3 L166.6,151.1 L167.1,150.5 L167.6,150.3 L168.1,150.0 L168.6,150.3 L169.1,150.2 L169.6,150.3 L170.1,150.6 L170.6,150.8 L171.1,150.9 L171.6,151.2 L172.1,152.0 L172.6,152.9 L173.1,153.7 L173.6,154.6 L174.1,155.5 L174.6,155.4 L175.1,155.1 L175.6,155.2 L176.1,155.4 L176.6,156.1 L177.1,156.0 L177.6,155.7 L178.1,156.5 L178.6,156.4 L179.1,155.2 L179.6,155.5 L180.1,155.8 L180.6,155.5 L181.1,155.6 L181.6,156.2 L182.1,156.8 L182.6,157.3 L183.1,157.6 L183.6,156.8 L184.1,156.7 L184.6,156.5 L185.1,156.2 L185.6,155.6 L186.1,155.3 L186.6,156.2 L187.1,157.4 L187.6,157.9 L188.1,157.6 L188.6,157.0 L189.1,156.8 L189.6,157.6 L190.1,157.6 L190.6,156.8 L191.1,156.4 L191.6,156.4 L192.1,156.9 L192.6,156.6 L193.1,155.9 L193.6,155.8 L194.1,155.5 L194.6,154.7 L195.1,154.0 L195.6,153.6 L196.1,153.7 L196.6,154.8 L197.1,155.2 L197.6,153.9 L198.1,153.8 L198.6,153.8 L199.1,153.1 L199.6,152.8 L200.1,152.5 L200.6,152.6 L201.1,152.0 L201.6,151.8 L202.1,151.7 L202.6,150.8 L203.1,149.9 L203.6,150.3 L204.1,150.9 L204.6,150.9 L205.1,150.8 L205.6,150.8 L206.1,151.7 L206.6,152.7 L207.1,153.5 L207.6,154.5 L208.1,154.3 L208.6,154.1 L209.1,154.7 L209.6,156.3 L210.1,157.1 L210.6,157.8 L211.1,158.6 L211.6,159.4 L212.1,159.6 L212.6,159.3 L213.1,159.7 L213.6,160.1 L214.1,160.1 L214.6,161.2 L215.1,161.8 L215.6,161.7 L216.1,161.4 L216.6,161.4 L217.1,161.3 L217.6,161.7 L218.1,161.9 L218.6,162.0 L219.1,161.7 L219.6,161.3 L220.1,159.8 L220.6,156.6 L221.1,152.5 L221.6,146.8 L222.1,142.4 L222.6,142.1 L223.1,145.4 L223.6,150.1 L224.1,154.2 L224.6,158.1 L225.1,161.1 L225.6,162.9 L226.1,163.5 L226.6,163.8 L227.1,163.8 L227.6,164.1 L228.1,164.5 L228.6,164.6 L229.1,164.0 L229.6,163.7 L230.1,164.1 L230.6,163.7 L231.1,161.5 L231.6,158.0 L232.1,153.0 L232.6,146.6 L233.1,139.2 L233.6,134.1 L234.1,134.3 L234.6,140.1 L235.1,148.1 L235.6,155.0 L236.1,160.3 L236.6,164.4 L237.1,166.1 L237.6,166.6 L238.1,167.8 L238.6,167.9 L239.1,167.8 L239.6,168.4 L240.1,168.7 L240.6,168.5 L241.1,168.6 L241.6,169.6 L242.1,169.9 L242.6,169.5 L243.1,170.5 L243.6,171.0 L244.1,170.7 L244.6,170.8 L245.1,170.8 L245.6,170.9 L246.1,171.6 L246.6,172.3 L247.1,171.9 L247.6,172.3 L248.1,172.6 L248.6,172.5 L249.1,172.5 L249.6,172.5 L250.1,173.0 L250.6,173.7 L251.1,173.9 L251.6,174.2 L252.1,175.0 L252.6,174.3 L253.1,173.9 L253.6,173.9 L254.1,174.1 L254.6,174.5 L255.1,174.3 L255.6,174.6 L256.1,174.3 L256.6,173.6 L257.1,173.8 L257.6,174.1 L258.1,174.9 L258.6,174.3 L259.1,173.5 L259.6,173.2 L260.1,173.5 L260.6,173.8 L261.1,173.6 L261.6,173.5 L262.1,173.8 L262.6,174.5 L263.1,174.8 L263.6,174.0 L264.1,173.8 L264.6,173.5 L265.1,173.1 L265.6,173.0 L266.1,173.3 L266.6,173.5 L267.1,172.7 L267.6,171.8 L268.1,171.1 L268.6,170.1 L269.1,169.4 L269.6,169.5 L270.1,170.3 L270.6,171.7 L271.1,172.7 L271.6,172.9 L272.1,173.3 L272.6,174.4 L273.1,175.0 L273.6,175.5 L274.1,174.8 L274.6,174.7 L275.1,174.6 L275.6,174.9 L276.1,175.0 L276.6,174.8 L277.1,175.0 L277.6,175.5 L278.1,175.8 L278.6,176.3 L279.1,176.6 L279.6,176.5 L280.1,176.0 L280.6,175.5 L281.1,175.1 L281.6,175.2 L282.1,175.5 L282.6,175.8 L283.1,175.3 L283.6,175.1 L284.1,175.5 L284.6,175.4 L285.1,175.6 L285.6,176.1 L286.1,176.1 L286.6,175.4 L287.1,175.7 L287.6,176.3 L288.1,176.3 L288.6,176.1 L289.1,176.5 L289.6,177.0 L290.1,176.8 L290.6,177.0 L291.1,177.0 L291.6,176.7 L292.1,176.7 L292.6,176.5 L293.1,176.3 L293.6,176.5 L294.1,177.1 L294.6,177.0 L295.1,176.8 L295.6,177.2 L296.1,178.1 L296.6,178.1 L297.1,177.7 L297.6,177.3 L298.1,177.3 L298.6,177.9 L299.1,177.9 L299.6,177.6 L300.1,178.0 L300.6,177.7 L301.1,176.8 L301.6,176.5 L302.1,176.6 L302.6,176.9 L303.1,176.8 L303.6,176.8 L304.1,177.6 L304.6,177.9 L305.1,178.1 L305.6,178.1 L306.1,177.7 L306.6,177.8 L307.1,178.1 L307.6,178.1 L308.1,177.8 L308.6,177.5 L309.1,177.4 L309.6,177.1 L310.1,176.8 L310.6,176.6 L311.1,176.9 L311.6,177.0 L312.1,177.1 L312.6,177.5 L313.1,177.9 L313.6,178.3 L314.1,177.7 L314.6,177.1 L315.1,177.2 L315.6,177.1 L316.1,177.0 L316.6,176.4 L317.1,176.0 L317.6,175.7 L318.1,175.3 L318.6,174.9 L319.1,175.1 L319.6,175.7 L320.1,176.2 L320.6,176.1 L321.1,176.2 L321.6,176.7 L322.1,177.2 L322.6,177.4 L323.1,177.3 L323.6,177.2 L324.1,177.6 L324.6,177.7 L325.1,177.3 L325.6,177.1 L326.1,176.9 L326.6,177.1 L327.1,177.2 L327.6,177.3 L328.1,177.4 L328.6,177.5 L329.1,177.7 L329.6,177.9 L330.1,177.8 L330.6,177.5 L331.1,177.5 L331.6,178.2 L332.1,178.3 L332.6,177.9 L333.1,177.6 L333.6,177.1 L334.1,176.9 L334.6,177.4 L335.1,177.7 L335.6,177.2 L336.1,177.1 L336.6,177.3 L337.1,176.9 L337.6,177.1 L338.1,177.3 L338.6,177.2 L339.1,177.6 L339.6,177.9 L340.1,177.3 L340.6,177.0 L341.1,176.9 L341.6,176.7 L342.1,176.7 L342.6,177.1 L343.1,176.8 L343.6,176.1 L344.1,176.3 L344.6,176.7 L345.1,176.6 L345.6,176.2 L346.1,176.3 L346.6,176.6 L347.1,176.6 L347.6,176.3 L348.1,176.1 L348.6,176.6 L349.1,176.7 L349.6,176.9 L350.1,176.9 L350.6,175.8 L351.1,175.1 L351.6,175.0 L352.1,174.3 L352.6,173.2 L353.1,172.2 L353.6,171.1 L354.1,168.7 L354.6,165.6 L355.1,162.6 L355.6,159.6 L356.1,157.7 L356.6,157.4 L357.1,159.2 L357.6,162.3 L358.1,165.4 L358.6,168.2 L359.1,170.4 L359.6,171.6 L360.1,172.6 L360.6,173.8 L361.1,174.6 L361.6,175.0 L362.1,175.3 L362.6,175.5 L363.1,175.8 L363.6,175.9 L364.1,175.7 L364.6,175.7 L365.1,175.9 L365.6,175.9 L366.1,176.1 L366.6,176.2 L367.1,176.0 L367.6,175.8 L368.1,175.9 L368.6,176.4 L369.1,176.3 L369.6,175.8 L370.1,175.9 L370.6,176.5 L371.1,176.6 L371.6,176.2 L372.1,176.0 L372.6,175.6 L373.1,175.8 L373.6,175.9 L374.1,175.4 L374.6,175.6 L375.1,176.1 L375.6,176.1 L376.1,175.8 L376.6,176.0 L377.1,176.1 L377.6,175.6 L378.1,175.2 L378.6,175.2 L379.1,175.2 L379.6,175.2 L380.1,174.6 L380.6,174.2 L381.1,174.1 L381.6,173.3 L382.1,172.8 L382.6,172.5 L383.1,172.0 L383.6,171.7 L384.1,171.5 L384.6,171.4 L385.1,171.5 L385.6,172.0 L386.1,172.7 L386.6,173.2 L387.1,173.6 L387.6,174.1 L388.1,174.9 L388.6,175.1 L389.1,174.7 L389.6,175.0 L390.1,175.0 L390.6,174.9 L391.1,175.4 L391.6,175.5 L392.1,175.5 L392.6,175.7 L393.1,176.2 L393.6,176.4 L394.1,176.2 L394.6,176.1 L395.1,176.0 L395.6,175.8 L396.1,175.7 L396.6,175.8 L397.1,175.8 L397.6,176.1 L398.1,176.4 L398.6,176.6 L399.1,177.0 L399.6,177.0 L400.1,176.2 L400.6,176.1 L401.1,176.2 L401.6,176.2 L402.1,176.2 L402.6,176.5 L403.1,176.6 L403.6,176.5 L404.1,176.5 L404.6,176.3 L405.1,176.2 L405.6,176.7 L406.1,176.6 L406.6,176.4 L407.1,176.5 L407.6,176.2 L408.1,176.0 L408.6,176.2 L409.1,176.0 L409.6,176.2 L410.1,176.5 L410.6,176.8 L411.1,176.9 L411.6,176.6 L412.1,176.3 L412.6,176.6 L413.1,177.1 L413.6,177.3 L414.1,176.9 L414.6,176.6 L415.1,176.7 L415.6,176.5 L416.1,176.4 L416.6,176.6 L417.1,176.9 L417.6,177.0 L418.1,177.2 L418.6,177.2 L419.1,176.7 L419.6,176.0 L420.1,175.9 L420.6,176.4 L421.1,176.8 L421.6,177.2 L422.1,177.0 L422.6,176.9 L423.1,177.2 L423.6,177.3 L424.1,177.0 L424.6,176.9 L425.1,176.6 L425.6,176.6 L426.1,176.9 L426.6,176.7 L427.1,177.0 L427.6,177.2 L428.1,177.2 L428.6,177.2 L429.1,176.9 L429.6,176.4 L430.1,176.5 L430.6,176.9 L431.1,177.1 L431.6,176.8 L432.1,176.7 L432.6,177.0 L433.1,177.1 L433.6,176.5 L434.1,176.4 L434.6,176.6 L435.1,176.4 L435.6,176.6 L436.1,176.6 L436.6,176.4 L437.1,176.5 L437.6,176.6 L438.1,176.7 L438.6,176.9 L439.1,177.0 L439.6,176.7 L440.1,176.4 L440.6,176.1 L441.1,176.0 L441.6,175.6 L442.1,174.8 L442.6,174.4 L443.1,173.8 L443.6,173.2 L444.1,172.7 L444.6,172.1 L445.1,171.4 L445.6,170.8 L446.1,170.4 L446.6,170.1 L447.1,169.9 L447.6,169.9 L448.1,169.9 L448.6,169.8 L449.1,169.7 L449.6,169.5 L450.1,169.6 L450.6,169.6 L451.1,169.7 L451.6,169.4 L452.1,169.1 L452.6,168.2 L453.1,166.4 L453.6,164.9 L454.1,163.8 L454.6,163.6 L455.1,164.9 L455.6,167.4 L456.1,169.9 L456.6,171.7 L457.1,172.9 L457.6,174.3 L458.1,175.6 L458.6,176.6 L459.1,177.0 L459.6,177.2 L460.1,177.5 L460.6,177.4 L461.1,177.4 L461.6,177.4 L462.1,177.3 L462.6,177.7 L463.1,178.0 L463.6,177.9 L464.1,177.5 L464.6,177.5 L465.1,177.9 L465.6,178.1 L466.1,178.1 L466.6,177.8 L467.1,177.8 L467.6,177.8 L468.1,177.9 L468.6,177.9 L469.1,178.1 L469.6,178.3 L470.1,178.0 L470.6,177.7 L471.1,178.1 L471.6,178.1 L472.1,177.8 L472.6,177.7 L473.1,177.9 L473.6,178.0 L474.1,177.7 L474.6,177.6 L475.1,178.0 L475.6,178.4 L476.1,178.6 L476.6,178.4 L477.1,178.9 L477.6,179.0 L478.1,178.7 L478.6,178.7 L479.1,178.4 L479.6,178.3 L480.1,178.0 L480.6,177.9 L481.1,177.7 L481.6,177.7 L482.1,178.0 L482.6,178.2 L483.1,178.6 L483.6,178.8 L484.1,178.6 L484.6,178.5 L485.1,178.4 L485.6,178.3 L486.1,178.6 L486.6,178.8 L487.1,178.6 L487.6,178.3 L488.1,178.2 L488.6,178.6 L489.1,179.2 L489.6,179.5 L490.1,179.6 L490.6,179.6 L491.1,179.3 L491.6,179.2 L492.1,179.0 L492.6,179.0 L493.1,179.4 L493.6,179.6 L494.1,179.0 L494.6,178.7 L495.1,178.9 L495.6,178.7 L496.1,178.6 L496.6,178.6 L497.1,178.7 L497.6,179.1 L498.1,179.0 L498.6,178.6 L499.1,178.5 L499.6,178.4 L500.1,178.4 L500.6,178.3 L501.1,178.2 L501.6,178.3 L502.1,178.6 L502.6,178.9 L503.1,178.9 L503.6,179.2 L504.1,179.7 L504.6,180.1 L505.1,179.6 L505.6,178.8 L506.1,179.0 L506.6,179.3 L507.1,179.6 L507.6,179.8 L508.1,179.4 L508.6,178.9 L509.1,179.3 L509.6,179.7 L510.1,179.9 L510.6,180.0 L511.1,179.8 L511.6,179.8 L512.1,179.6 L512.6,179.9 L513.1,180.3 L513.6,180.5 L514.1,179.9 L514.6,179.6 L515.1,179.9 L515.6,180.0 L516.1,180.1 L516.6,179.8 L517.1,179.7 L517.6,180.1 L518.1,180.2 L518.6,180.0 L519.1,179.8 L519.6,180.0 L520.1,179.8 L520.6,179.7 L521.1,179.3 L521.6,179.1 L522.1,179.5 L522.6,179.9 L523.1,180.2 L523.6,180.1 L524.1,180.0 L524.6,180.3 L525.1,180.5 L525.6,180.0 L526.1,180.0 L526.6,179.8 L527.1,179.5 L527.6,179.3 L528.1,179.0 L528.6,178.1 L529.1,177.4 L529.6,177.1 L530.1,176.7 L530.6,176.7 L531.1,176.6 L531.6,176.3 L532.1,176.5 L532.6,176.7 L533.1,177.1 L533.6,177.7 L534.1,178.4 L534.6,178.5 L535.1,178.4 L535.6,178.8 L536.1,179.3 L536.6,179.2 L537.1,179.3 L537.6,179.3 L538.1,179.2 L538.6,179.7 L539.1,180.3 L539.6,180.2 L540.1,180.0 L540.6,180.2 L541.1,180.4 L541.6,180.5 L542.1,180.0 L542.6,179.9 L543.1,180.1 L543.6,180.3 L544.1,180.4 L544.6,180.4 L545.1,180.1 L545.6,180.0 L546.1,180.0 L546.6,179.9 L547.1,180.0 L547.6,180.2 L548.1,180.5 L548.6,180.5 L549.1,180.1 L549.6,180.3 L550.1,180.5 L550.6,180.2 L551.1,179.8 L551.6,179.9 L552.1,180.6 L552.6,180.9 L553.1,180.7 L553.6,180.6 L554.1,181.0 L554.6,180.9 L555.1,180.4 L555.6,179.9 L556.1,179.5 L556.6,179.5 L557.1,179.3 L557.6,179.4 L558.1,179.4 L558.6,179.2 L559.1,179.1 L559.6,178.8 L560.1,178.8 L560.6,179.0 L561.1,179.0 L561.6,179.2 L562.1,179.7 L562.6,179.9 L563.1,179.8 L563.6,179.9 L564.1,180.2 L564.6,180.6 L565.1,180.3 L565.6,180.0 L566.1,179.9 L566.6,179.9 L567.1,180.1 L567.6,180.6 L568.1,180.7 L568.6,180.4 L569.1,180.2 L569.6,180.4 L570.1,180.3 L570.6,180.3 L571.1,180.7 L571.6,180.8 L572.1,181.0 L572.6,181.1 L573.1,181.1 L573.6,181.2 L574.1,181.0 L574.6,181.1 L575.1,181.2 L575.6,181.0 L576.1,180.8 L576.6,180.5 L577.1,180.4 L577.6,180.7 L578.1,180.9 L578.6,181.1 L579.1,181.2 L579.6,181.2 L580.1,181.2 L580.6,181.2 L581.1,181.2 L581.6,181.2 L582.1,181.5 L582.6,181.7 L583.1,181.2 L583.6,181.2 L584.1,181.5 L584.6,181.5 L585.1,181.5 L585.6,181.1 L586.1,180.6 L586.6,180.4 L587.1,180.5 L587.6,181.0 L588.1,181.2 L588.6,181.0 L589.1,181.0 L589.6,180.8 L590.1,180.6 L590.6,180.6 L591.1,180.5 L591.6,180.6 L592.1,180.9 L592.6,181.2 L593.1,181.2 L593.6,180.9 L594.1,180.8 L594.6,180.9 L595.1,180.6 L595.6,180.0 L596.1,180.3 L596.6,180.7 L597.1,180.6 L597.6,180.9 L598.1,181.0 L598.6,180.6 L599.1,180.8 L599.6,181.1 L600.1,180.9 L600.6,180.7 L601.1,180.9 L601.6,181.1 L602.1,181.3 L602.6,181.3 L603.1,181.1 L603.6,181.1 L604.1,181.0 L604.6,180.9 L605.1,180.9 L605.6,181.3 L606.1,181.6 L606.6,181.5 L607.1,181.3 L607.6,181.2 L608.1,181.3 L608.6,181.4 L609.1,181.4 L609.6,181.8 L610.1,181.7 L610.6,181.9 L611.1,181.6 L611.6,181.2 L612.1,181.2 L612.6,181.3 L613.1,181.4 L613.6,181.4 L614.1,181.0 L614.6,180.8 L615.1,180.6 L615.6,180.3 L616.1,180.3 L616.6,180.3 L617.1,180.0 L617.6,179.6 L618.1,179.2 L618.6,178.8 L619.1,178.2 L619.6,178.2 L620.1,178.6 L620.6,179.2 L621.1,179.6 L621.6,180.0 L622.1,180.3 L622.6,180.5 L623.1,180.4 L623.6,180.4 L624.1,180.6 L624.6,181.4 L625.1,181.6 L625.6,181.2 L626.1,180.8 L626.6,180.6 L627.1,180.9 L627.6,181.3 L628.1,181.3 L628.6,181.1 L629.1,181.2 L629.6,181.4 L630.1,181.6 L630.6,181.7 L631.1,181.5 L631.6,181.4 L632.1,181.2 L632.6,181.0 L633.1,181.3 L633.6,181.6 L634.1,181.5 L634.6,181.2 L635.1,181.5 L635.6,181.5 L636.1,181.8 L636.6,181.8 L637.1,181.3 L637.6,181.3 L638.1,181.6 L638.6,181.4 L639.1,181.4 L639.6,181.7 L640.1,181.7 L640.6,181.9 L641.1,181.8 L641.6,181.8 L642.1,182.2 L642.6,182.3 L643.1,182.0 L643.6,182.0 L644.1,181.9 L644.6,181.6 L645.1,181.4 L645.6,181.1 L646.1,181.2 L646.6,181.5 L647.1,181.7 L647.6,181.7 L648.1,181.3 L648.6,181.2 L649.1,181.3 L649.6,181.5 L650.1,181.6 L650.6,181.3 L651.1,181.4 L651.6,181.3 L652.1,181.4 L652.6,181.6 L653.1,181.5 L653.6,181.6 L654.1,181.6 L654.6,181.5 L655.1,181.4 L655.6,181.1 L656.1,181.3 L656.6,181.7 L657.1,181.6 L657.6,181.5 L658.1,181.8 L658.6,181.7 L659.1,181.2 L659.6,181.1 L660.1,181.3 L660.6,181.0 L661.1,181.2 L661.6,181.5 L662.1,181.7 L662.6,181.8 L663.1,181.8 L663.6,181.6 L664.1,181.9 L664.6,182.2 L665.1,181.8 L665.6,181.8 L666.1,181.9 L666.6,181.9 L667.1,182.0 L667.6,181.8 L668.1,181.4 L668.6,181.1 L669.1,181.7 L669.6,182.1 L670.1,182.1 L670.6,182.5 L671.1,182.5" fill="none" stroke="#1f63d6" stroke-width="2.4" stroke-linejoin="round" stroke-linecap="butt"/>
<path d="M37.6,92.0 L38.1,92.0 L38.6,91.7 L39.1,91.4 L39.6,91.9 L40.1,92.0 L40.6,91.8 L41.1,92.1 L41.6,92.2 L42.1,92.1 L42.6,92.0 L43.1,91.9 L43.6,91.4 L44.1,91.2 L44.6,91.2 L45.1,91.4 L45.6,91.3 L46.1,91.1 L46.6,91.1 L47.1,91.4 L47.6,91.7 L48.1,92.0 L48.6,92.5 L49.1,92.0 L49.6,90.8 L50.1,90.7 L50.6,91.5 L51.1,91.9 L51.6,92.2 L52.1,92.7 L52.6,92.9 L53.1,92.1 L53.6,92.2 L54.1,93.0 L54.6,92.8 L55.1,92.3 L55.6,91.6 L56.1,91.3 L56.6,91.7 L57.1,91.8 L57.6,91.4 L58.1,91.6 L58.6,91.9 L59.1,91.9 L59.6,92.2 L60.1,92.3 L60.6,92.2 L61.1,92.2 L61.6,92.5 L62.1,92.6 L62.6,92.2 L63.1,91.8 L63.6,91.9 L64.1,91.8 L64.6,91.7 L65.1,91.5 L65.6,91.9 L66.1,91.7 L66.6,91.4 L67.1,91.7 L67.6,92.0 L68.1,91.9 L68.6,91.3 L69.1,91.1 L69.6,91.2 L70.1,91.2 L70.6,91.4 L71.1,91.4 L71.6,91.1 L72.1,91.9 L72.6,92.5 L73.1,92.2 L73.6,92.0 L74.1,92.4 L74.6,92.5 L75.1,92.3 L75.6,91.7 L76.1,91.2 L76.6,91.4 L77.1,91.7 L77.6,92.0 L78.1,91.6 L78.6,90.9 L79.1,91.2 L79.6,92.0 L80.1,92.2 L80.6,91.9 L81.1,92.1 L81.6,92.4 L82.1,92.7 L82.6,92.8 L83.1,92.6 L83.6,92.4 L84.1,92.3 L84.6,92.1 L85.1,91.3 L85.6,91.4 L86.1,91.4 L86.6,91.1 L87.1,91.4 L87.6,91.5 L88.1,91.8 L88.6,91.8 L89.1,92.0 L89.6,92.1 L90.1,91.6 L90.6,90.7 L91.1,90.6 L91.6,91.2 L92.1,90.6 L92.6,90.0 L93.1,89.8 L93.6,89.7 L94.1,89.5 L94.6,88.8 L95.1,87.7 L95.6,86.0 L96.1,83.0 L96.6,77.0 L97.1,67.5 L97.6,53.5 L98.1,38.4 L98.6,33.5 L99.1,44.0 L99.6,59.2 L100.1,70.7 L100.6,78.6 L101.1,83.8 L101.6,86.1 L102.1,87.5 L102.6,88.7 L103.1,89.6 L103.6,89.9 L104.1,90.2 L104.6,90.2 L105.1,90.0 L105.6,90.1 L106.1,90.1 L106.6,90.3 L107.1,90.1 L107.6,90.4 L108.1,91.2 L108.6,91.0 L109.1,90.9 L109.6,90.9 L110.1,90.7 L110.6,90.7 L111.1,91.0 L111.6,90.8 L112.1,90.5 L112.6,90.6 L113.1,90.1 L113.6,89.5 L114.1,89.4 L114.6,89.7 L115.1,89.9 L115.6,89.2 L116.1,88.7 L116.6,88.2 L117.1,88.7 L117.6,89.1 L118.1,88.9 L118.6,88.8 L119.1,89.3 L119.6,89.9 L120.1,90.5 L120.6,91.0 L121.1,90.6 L121.6,90.2 L122.1,90.4 L122.6,90.7 L123.1,91.0 L123.6,91.2 L124.1,91.3 L124.6,91.2 L125.1,91.8 L125.6,91.6 L126.1,91.6 L126.6,92.3 L127.1,92.8 L127.6,92.6 L128.1,92.3 L128.6,92.4 L129.1,93.3 L129.6,92.9 L130.1,91.9 L130.6,92.0 L131.1,92.2 L131.6,92.2 L132.1,92.7 L132.6,93.1 L133.1,93.5 L133.6,93.0 L134.1,91.8 L134.6,91.9 L135.1,92.1 L135.6,92.8 L136.1,93.0 L136.6,92.8 L137.1,92.9 L137.6,93.8 L138.1,93.9 L138.6,93.0 L139.1,92.7 L139.6,92.4 L140.1,92.2 L140.6,92.2 L141.1,92.7 L141.6,92.2 L142.1,92.1 L142.6,92.3 L143.1,92.2 L143.6,92.2 L144.1,92.3 L144.6,92.3 L145.1,92.2 L145.6,92.4 L146.1,92.6 L146.6,92.6 L147.1,92.6 L147.6,92.5 L148.1,92.6 L148.6,92.2 L149.1,92.0 L149.6,91.7 L150.1,91.5 L150.6,91.5 L151.1,91.8 L151.6,91.7 L152.1,91.9 L152.6,92.6 L153.1,92.9 L153.6,92.6 L154.1,92.4 L154.6,93.1 L155.1,93.1 L155.6,92.7 L156.1,92.8 L156.6,92.4 L157.1,92.2 L157.6,92.5 L158.1,92.6 L158.6,92.4 L159.1,92.2 L159.6,92.7 L160.1,92.0 L160.6,91.6 L161.1,92.0 L161.6,92.0 L162.1,91.9 L162.6,91.7 L163.1,91.5 L163.6,91.2 L164.1,90.8 L164.6,90.7 L165.1,90.1 L165.6,89.7 L166.1,89.8 L166.6,89.7 L167.1,89.2 L167.6,89.0 L168.1,89.0 L168.6,88.6 L169.1,88.8 L169.6,89.3 L170.1,89.5 L170.6,90.0 L171.1,90.6 L171.6,90.8 L172.1,90.5 L172.6,90.6 L173.1,90.8 L173.6,90.9 L174.1,92.1 L174.6,91.7 L175.1,91.4 L175.6,91.9 L176.1,91.6 L176.6,91.3 L177.1,92.0 L177.6,92.4 L178.1,92.1 L178.6,92.2 L179.1,92.5 L179.6,92.5 L180.1,92.8 L180.6,92.8 L181.1,92.4 L181.6,92.2 L182.1,92.4 L182.6,92.7 L183.1,93.2 L183.6,93.2 L184.1,93.2 L184.6,93.0 L185.1,92.8 L185.6,92.6 L186.1,93.1 L186.6,93.3 L187.1,92.5 L187.6,92.0 L188.1,92.0 L188.6,92.0 L189.1,92.0 L189.6,92.4 L190.1,92.7 L190.6,93.1 L191.1,92.8 L191.6,92.7 L192.1,92.7 L192.6,92.5 L193.1,92.6 L193.6,92.1 L194.1,91.8 L194.6,92.0 L195.1,92.0 L195.6,91.7 L196.1,91.7 L196.6,91.6 L197.1,92.1 L197.6,91.8 L198.1,91.1 L198.6,90.7 L199.1,90.7 L199.6,90.6 L200.1,90.2 L200.6,90.2 L201.1,90.4 L201.6,90.5 L202.1,90.9 L202.6,90.9 L203.1,90.3 L203.6,89.9 L204.1,89.4 L204.6,89.7 L205.1,89.8 L205.6,90.1 L206.1,90.1 L206.6,89.4 L207.1,89.8 L207.6,90.2 L208.1,90.6 L208.6,90.6 L209.1,90.9 L209.6,91.5 L210.1,91.9 L210.6,91.9 L211.1,91.8 L211.6,92.4 L212.1,93.1 L212.6,93.0 L213.1,92.7 L213.6,93.4 L214.1,93.8 L214.6,93.9 L215.1,93.8 L215.6,93.8 L216.1,93.6 L216.6,93.7 L217.1,93.7 L217.6,93.8 L218.1,93.6 L218.6,92.6 L219.1,91.8 L219.6,90.5 L220.1,87.9 L220.6,82.9 L221.1,75.7 L221.6,68.3 L222.1,62.6 L222.6,61.8 L223.1,66.3 L223.6,74.3 L224.1,81.9 L224.6,86.6 L225.1,90.0 L225.6,92.8 L226.1,94.3 L226.6,94.7 L227.1,95.4 L227.6,96.0 L228.1,96.4 L228.6,96.1 L229.1,95.6 L229.6,94.6 L230.1,93.8 L230.6,93.1 L231.1,91.6 L231.6,88.2 L232.1,82.4 L232.6,74.3 L233.1,63.7 L233.6,52.8 L234.1,47.9 L234.6,52.6 L235.1,63.1 L235.6,74.7 L236.1,83.6 L236.6,89.4 L237.1,93.0 L237.6,94.6 L238.1,96.0 L238.6,97.4 L239.1,98.5 L239.6,98.6 L240.1,99.3 L240.6,100.0 L241.1,100.3 L241.6,100.2 L242.1,99.5 L242.6,99.4 L243.1,100.2 L243.6,100.4 L244.1,100.6 L244.6,100.9 L245.1,101.7 L245.6,101.8 L246.1,101.5 L246.6,101.7 L247.1,101.5 L247.6,101.3 L248.1,101.2 L248.6,101.3 L249.1,101.5 L249.6,101.5 L250.1,101.5 L250.6,101.7 L251.1,101.4 L251.6,101.5 L252.1,101.8 L252.6,101.9 L253.1,101.8 L253.6,102.1 L254.1,102.0 L254.6,101.8 L255.1,102.0 L255.6,102.6 L256.1,102.6 L256.6,102.3 L257.1,102.2 L257.6,102.4 L258.1,102.6 L258.6,103.1 L259.1,103.2 L259.6,102.9 L260.1,102.5 L260.6,102.2 L261.1,102.5 L261.6,103.2 L262.1,103.7 L262.6,103.5 L263.1,103.0 L263.6,102.8 L264.1,102.6 L264.6,102.4 L265.1,102.5 L265.6,102.8 L266.1,103.0 L266.6,102.4 L267.1,102.0 L267.6,101.1 L268.1,99.4 L268.6,97.9 L269.1,96.0 L269.6,94.6 L270.1,94.8 L270.6,96.0 L271.1,97.5 L271.6,99.1 L272.1,100.6 L272.6,101.5 L273.1,101.8 L273.6,102.2 L274.1,102.3 L274.6,103.0 L275.1,103.4 L275.6,103.4 L276.1,103.4 L276.6,103.4 L277.1,103.1 L277.6,103.2 L278.1,103.6 L278.6,103.9 L279.1,104.2 L279.6,104.6 L280.1,104.3 L280.6,104.4 L281.1,104.4 L281.6,103.9 L282.1,103.4 L282.6,103.4 L283.1,103.9 L283.6,104.4 L284.1,104.3 L284.6,104.1 L285.1,104.1 L285.6,103.9 L286.1,103.5 L286.6,103.9 L287.1,104.0 L287.6,104.1 L288.1,104.7 L288.6,104.2 L289.1,103.9 L289.6,104.3 L290.1,104.7 L290.6,104.6 L291.1,104.8 L291.6,104.9 L292.1,104.6 L292.6,104.2 L293.1,104.6 L293.6,105.0 L294.1,104.6 L294.6,104.5 L295.1,104.8 L295.6,105.1 L296.1,105.1 L296.6,104.9 L297.1,104.6 L297.6,104.8 L298.1,104.6 L298.6,104.2 L299.1,104.8 L299.6,105.0 L300.1,104.3 L300.6,104.3 L301.1,104.5 L301.6,103.8 L302.1,103.5 L302.6,103.7 L303.1,104.0 L303.6,104.3 L304.1,104.6 L304.6,104.4 L305.1,104.1 L305.6,104.6 L306.1,105.1 L306.6,105.0 L307.1,104.8 L307.6,104.6 L308.1,104.6 L308.6,104.5 L309.1,104.7 L309.6,104.8 L310.1,104.9 L310.6,104.6 L311.1,104.2 L311.6,104.4 L312.1,104.5 L312.6,104.0 L313.1,103.9 L313.6,103.8 L314.1,103.9 L314.6,104.5 L315.1,104.7 L315.6,104.4 L316.1,104.0 L316.6,103.6 L317.1,103.3 L317.6,102.9 L318.1,102.9 L318.6,102.8 L319.1,102.4 L319.6,101.9 L320.1,102.0 L320.6,102.4 L321.1,102.9 L321.6,102.8 L322.1,102.7 L322.6,103.4 L323.1,104.0 L323.6,104.0 L324.1,103.9 L324.6,103.4 L325.1,102.9 L325.6,102.8 L326.1,103.1 L326.6,103.5 L327.1,103.9 L327.6,104.0 L328.1,103.9 L328.6,104.0 L329.1,103.9 L329.6,103.8 L330.1,104.0 L330.6,103.6 L331.1,103.1 L331.6,103.4 L332.1,103.6 L332.6,103.2 L333.1,103.6 L333.6,103.7 L334.1,103.5 L334.6,103.5 L335.1,103.7 L335.6,104.0 L336.1,104.2 L336.6,103.9 L337.1,103.3 L337.6,103.4 L338.1,103.9 L338.6,104.2 L339.1,103.9 L339.6,103.9 L340.1,104.0 L340.6,103.8 L341.1,103.5 L341.6,103.4 L342.1,103.9 L342.6,104.3 L343.1,103.9 L343.6,103.7 L344.1,103.5 L344.6,103.7 L345.1,103.7 L345.6,103.5 L346.1,103.5 L346.6,103.5 L347.1,103.5 L347.6,103.6 L348.1,103.2 L348.6,102.7 L349.1,102.4 L349.6,102.3 L350.1,102.4 L350.6,102.5 L351.1,102.8 L351.6,102.4 L352.1,101.4 L352.6,100.6 L353.1,99.7 L353.6,97.9 L354.1,96.0 L354.6,93.4 L355.1,89.4 L355.6,84.6 L356.1,79.9 L356.6,77.0 L357.1,77.3 L357.6,80.9 L358.1,85.8 L358.6,90.3 L359.1,93.9 L359.6,96.1 L360.1,97.6 L360.6,98.8 L361.1,99.8 L361.6,100.8 L362.1,101.7 L362.6,101.9 L363.1,102.0 L363.6,102.1 L364.1,102.4 L364.6,102.7 L365.1,102.7 L365.6,102.7 L366.1,103.0 L366.6,103.2 L367.1,102.8 L367.6,102.8 L368.1,102.8 L368.6,103.1 L369.1,103.1 L369.6,103.1 L370.1,103.6 L370.6,104.0 L371.1,104.0 L371.6,103.9 L372.1,103.5 L372.6,103.1 L373.1,103.3 L373.6,103.3 L374.1,103.2 L374.6,103.6 L375.1,103.6 L375.6,103.6 L376.1,103.7 L376.6,103.6 L377.1,103.7 L377.6,103.5 L378.1,103.5 L378.6,103.3 L379.1,103.4 L379.6,103.3 L380.1,102.9 L380.6,102.1 L381.1,101.5 L381.6,100.8 L382.1,99.5 L382.6,98.9 L383.1,98.6 L383.6,98.3 L384.1,98.3 L384.6,98.6 L385.1,99.3 L385.6,99.9 L386.1,100.4 L386.6,101.1 L387.1,101.9 L387.6,102.4 L388.1,102.4 L388.6,102.2 L389.1,102.6 L389.6,103.2 L390.1,103.5 L390.6,103.5 L391.1,103.3 L391.6,103.3 L392.1,103.9 L392.6,103.9 L393.1,104.2 L393.6,104.3 L394.1,103.9 L394.6,103.7 L395.1,103.6 L395.6,103.6 L396.1,103.7 L396.6,103.9 L397.1,104.1 L397.6,104.3 L398.1,104.3 L398.6,104.1 L399.1,104.0 L399.6,103.7 L400.1,103.5 L400.6,103.5 L401.1,103.7 L401.6,104.1 L402.1,104.3 L402.6,104.3 L403.1,104.1 L403.6,104.0 L404.1,103.7 L404.6,103.7 L405.1,103.9 L405.6,103.8 L406.1,103.7 L406.6,103.6 L407.1,103.4 L407.6,103.5 L408.1,103.7 L408.6,103.7 L409.1,103.9 L409.6,104.3 L410.1,104.6 L410.6,104.6 L411.1,104.3 L411.6,104.0 L412.1,104.0 L412.6,104.0 L413.1,104.3 L413.6,104.5 L414.1,104.2 L414.6,104.0 L415.1,103.9 L415.6,103.9 L416.1,103.8 L416.6,104.0 L417.1,104.1 L417.6,104.0 L418.1,104.1 L418.6,104.1 L419.1,104.0 L419.6,104.0 L420.1,104.3 L420.6,104.4 L421.1,104.3 L421.6,103.8 L422.1,103.6 L422.6,104.0 L423.1,104.1 L423.6,103.7 L424.1,103.6 L424.6,103.6 L425.1,103.6 L425.6,103.6 L426.1,103.6 L426.6,103.8 L427.1,103.8 L427.6,104.3 L428.1,104.7 L428.6,104.6 L429.1,104.5 L429.6,104.2 L430.1,103.9 L430.6,103.9 L431.1,104.2 L431.6,104.3 L432.1,104.3 L432.6,104.0 L433.1,104.0 L433.6,104.3 L434.1,104.6 L434.6,104.6 L435.1,104.1 L435.6,103.7 L436.1,103.7 L436.6,104.1 L437.1,104.0 L437.6,103.7 L438.1,103.4 L438.6,103.0 L439.1,103.0 L439.6,103.5 L440.1,103.5 L440.6,103.1 L441.1,102.8 L441.6,102.8 L442.1,102.6 L442.6,101.8 L443.1,101.2 L443.6,100.7 L444.1,100.2 L444.6,99.5 L445.1,98.7 L445.6,98.0 L446.1,97.5 L446.6,96.9 L447.1,96.6 L447.6,96.3 L448.1,96.1 L448.6,95.8 L449.1,95.7 L449.6,95.8 L450.1,95.6 L450.6,95.4 L451.1,95.3 L451.6,94.6 L452.1,93.4 L452.6,91.7 L453.1,89.6 L453.6,87.5 L454.1,85.5 L454.6,83.7 L455.1,83.2 L455.6,84.7 L456.1,87.3 L456.6,90.5 L457.1,93.7 L457.6,96.4 L458.1,98.8 L458.6,100.5 L459.1,101.6 L459.6,102.5 L460.1,103.0 L460.6,103.1 L461.1,103.0 L461.6,103.1 L462.1,103.2 L462.6,103.7 L463.1,104.3 L463.6,104.6 L464.1,104.6 L464.6,104.3 L465.1,104.2 L465.6,104.3 L466.1,104.5 L466.6,104.5 L467.1,104.5 L467.6,104.8 L468.1,104.4 L468.6,104.1 L469.1,104.3 L469.6,104.4 L470.1,104.2 L470.6,104.1 L471.1,104.1 L471.6,103.9 L472.1,103.7 L472.6,103.1 L473.1,102.1 L473.6,101.7 L474.1,101.9 L474.6,102.5 L475.1,103.2 L475.6,103.7 L476.1,104.0 L476.6,104.5 L477.1,104.7 L477.6,104.5 L478.1,104.5 L478.6,104.7 L479.1,104.8 L479.6,105.0 L480.1,105.4 L480.6,105.4 L481.1,105.2 L481.6,105.2 L482.1,105.5 L482.6,105.3 L483.1,105.0 L483.6,104.9 L484.1,105.1 L484.6,105.4 L485.1,105.2 L485.6,104.8 L486.1,104.6 L486.6,104.7 L487.1,104.6 L487.6,104.6 L488.1,104.9 L488.6,105.0 L489.1,105.3 L489.6,105.3 L490.1,104.9 L490.6,104.8 L491.1,104.8 L491.6,105.1 L492.1,105.3 L492.6,105.2 L493.1,105.5 L493.6,105.3 L494.1,105.1 L494.6,105.3 L495.1,105.3 L495.6,105.1 L496.1,105.1 L496.6,105.2 L497.1,105.5 L497.6,105.4 L498.1,105.3 L498.6,105.3 L499.1,105.1 L499.6,105.4 L500.1,105.7 L500.6,105.8 L501.1,105.8 L501.6,105.7 L502.1,105.5 L502.6,105.6 L503.1,105.6 L503.6,105.5 L504.1,105.4 L504.6,105.2 L505.1,105.2 L505.6,105.5 L506.1,105.6 L506.6,105.5 L507.1,105.2 L507.6,105.4 L508.1,105.3 L508.6,105.1 L509.1,105.3 L509.6,105.6 L510.1,105.7 L510.6,105.9 L511.1,106.0 L511.6,106.1 L512.1,105.8 L512.6,105.5 L513.1,105.7 L513.6,105.9 L514.1,106.0 L514.6,106.2 L515.1,106.3 L515.6,106.3 L516.1,106.3 L516.6,106.0 L517.1,106.0 L517.6,105.7 L518.1,105.6 L518.6,105.6 L519.1,105.6 L519.6,105.6 L520.1,105.5 L520.6,105.5 L521.1,105.5 L521.6,105.6 L522.1,105.6 L522.6,105.6 L523.1,105.6 L523.6,105.3 L524.1,105.3 L524.6,105.6 L525.1,105.7 L525.6,105.7 L526.1,105.7 L526.6,105.7 L527.1,105.1 L527.6,104.7 L528.1,104.6 L528.6,104.5 L529.1,104.2 L529.6,103.8 L530.1,103.1 L530.6,102.1 L531.1,101.2 L531.6,100.7 L532.1,100.6 L532.6,100.1 L533.1,99.7 L533.6,99.6 L534.1,99.9 L534.6,100.4 L535.1,101.0 L535.6,101.5 L536.1,102.5 L536.6,103.4 L537.1,104.1 L537.6,104.6 L538.1,105.0 L538.6,105.1 L539.1,105.1 L539.6,104.7 L540.1,105.0 L540.6,105.4 L541.1,105.3 L541.6,105.3 L542.1,105.5 L542.6,105.5 L543.1,105.6 L543.6,105.4 L544.1,105.2 L544.6,105.4 L545.1,105.6 L545.6,105.9 L546.1,106.1 L546.6,106.2 L547.1,106.3 L547.6,106.6 L548.1,106.4 L548.6,106.3 L549.1,106.3 L549.6,106.1 L550.1,106.1 L550.6,106.2 L551.1,106.4 L551.6,106.4 L552.1,106.3 L552.6,105.9 L553.1,105.8 L553.6,106.0 L554.1,105.7 L554.6,105.6 L555.1,105.6 L555.6,105.4 L556.1,104.9 L556.6,104.7 L557.1,104.6 L557.6,104.2 L558.1,103.8 L558.6,103.7 L559.1,103.5 L559.6,103.9 L560.1,104.3 L560.6,104.3 L561.1,104.4 L561.6,104.7 L562.1,104.8 L562.6,104.8 L563.1,105.0 L563.6,105.3 L564.1,105.7 L564.6,105.8 L565.1,105.5 L565.6,105.8 L566.1,106.2 L566.6,106.2 L567.1,106.1 L567.6,105.9 L568.1,106.0 L568.6,105.9 L569.1,106.2 L569.6,106.6 L570.1,106.7 L570.6,106.5 L571.1,106.3 L571.6,106.0 L572.1,106.0 L572.6,106.1 L573.1,106.0 L573.6,105.8 L574.1,105.7 L574.6,105.9 L575.1,106.0 L575.6,105.8 L576.1,105.9 L576.6,106.2 L577.1,106.1 L577.6,105.9 L578.1,105.8 L578.6,105.9 L579.1,106.2 L579.6,106.4 L580.1,106.3 L580.6,106.4 L581.1,106.1 L581.6,106.0 L582.1,106.2 L582.6,106.0 L583.1,105.9 L583.6,106.0 L584.1,105.9 L584.6,105.7 L585.1,105.9 L585.6,106.0 L586.1,106.2 L586.6,106.3 L587.1,106.2 L587.6,106.2 L588.1,106.3 L588.6,106.4 L589.1,106.4 L589.6,106.4 L590.1,106.3 L590.6,106.3 L591.1,106.1 L591.6,106.1 L592.1,106.4 L592.6,106.6 L593.1,106.4 L593.6,106.2 L594.1,106.3 L594.6,106.1 L595.1,106.0 L595.6,106.2 L596.1,106.4 L596.6,106.4 L597.1,106.3 L597.6,106.4 L598.1,106.5 L598.6,106.5 L599.1,106.3 L599.6,106.3 L600.1,106.4 L600.6,106.4 L601.1,106.2 L601.6,106.1 L602.1,105.9 L602.6,105.8 L603.1,106.1 L603.6,106.3 L604.1,106.3 L604.6,106.4 L605.1,106.4 L605.6,106.4 L606.1,106.0 L606.6,105.8 L607.1,106.0 L607.6,106.1 L608.1,106.0 L608.6,106.2 L609.1,106.3 L609.6,106.2 L610.1,106.1 L610.6,106.1 L611.1,106.3 L611.6,106.5 L612.1,106.2 L612.6,106.2 L613.1,106.1 L613.6,105.7 L614.1,105.8 L614.6,106.1 L615.1,105.7 L615.6,105.6 L616.1,105.3 L616.6,104.9 L617.1,104.5 L617.6,104.4 L618.1,104.1 L618.6,103.4 L619.1,102.9 L619.6,102.5 L620.1,102.2 L620.6,102.2 L621.1,102.8 L621.6,103.5 L622.1,103.9 L622.6,104.4 L623.1,105.2 L623.6,105.3 L624.1,105.6 L624.6,106.0 L625.1,106.1 L625.6,105.9 L626.1,105.9 L626.6,106.1 L627.1,106.6 L627.6,106.6 L628.1,106.1 L628.6,106.0 L629.1,105.7 L629.6,105.9 L630.1,106.1 L630.6,106.5 L631.1,106.3 L631.6,105.9 L632.1,105.8 L632.6,105.7 L633.1,105.8 L633.6,105.8 L634.1,105.9 L634.6,106.0 L635.1,105.7 L635.6,105.1 L636.1,104.8 L636.6,104.9 L637.1,105.2 L637.6,105.1 L638.1,105.1 L638.6,105.2 L639.1,105.3 L639.6,105.6 L640.1,106.1 L640.6,106.2 L641.1,106.3 L641.6,106.5 L642.1,106.4 L642.6,106.3 L643.1,106.5 L643.6,106.6 L644.1,106.5 L644.6,106.2 L645.1,106.4 L645.6,106.7 L646.1,106.8 L646.6,106.5 L647.1,106.5 L647.6,106.7 L648.1,106.9 L648.6,107.0 L649.1,107.1 L649.6,106.9 L650.1,106.6 L650.6,106.6 L651.1,106.8 L651.6,107.1 L652.1,107.5 L652.6,107.4 L653.1,106.9 L653.6,106.9 L654.1,106.6 L654.6,106.6 L655.1,107.0 L655.6,107.0 L656.1,106.8 L656.6,106.9 L657.1,106.6 L657.6,106.5 L658.1,106.8 L658.6,107.0 L659.1,106.9 L659.6,107.0 L660.1,107.1 L660.6,107.1 L661.1,106.9 L661.6,106.6 L662.1,106.8 L662.6,107.1 L663.1,107.1 L663.6,107.3 L664.1,107.4 L664.6,107.2 L665.1,107.3 L665.6,107.6 L666.1,107.6 L666.6,107.7 L667.1,107.6 L667.6,107.4 L668.1,107.1 L668.6,106.8 L669.1,106.8 L669.6,107.1 L670.1,107.1 L670.6,107.1 L671.1,107.2" fill="none" stroke="#e8343c" stroke-width="2.4" stroke-linejoin="round" stroke-linecap="butt"/></g>
<g stroke="#111" fill="none">
<g stroke-width="1.9"><line x1="36.8" y1="421.8" x2="36.8" y2="413.8"/>
<line x1="36.8" y1="2.0" x2="36.8" y2="9.5"/>
<line x1="89.7" y1="421.8" x2="89.7" y2="417.8"/>
<line x1="89.7" y1="2.0" x2="89.7" y2="5.5"/>
<line x1="142.5" y1="421.8" x2="142.5" y2="413.8"/>
<line x1="142.5" y1="2.0" x2="142.5" y2="9.5"/>
<line x1="195.4" y1="421.8" x2="195.4" y2="417.8"/>
<line x1="195.4" y1="2.0" x2="195.4" y2="5.5"/>
<line x1="248.2" y1="421.8" x2="248.2" y2="413.8"/>
<line x1="248.2" y1="2.0" x2="248.2" y2="9.5"/>
<line x1="301.1" y1="421.8" x2="301.1" y2="417.8"/>
<line x1="301.1" y1="2.0" x2="301.1" y2="5.5"/>
<line x1="353.9" y1="421.8" x2="353.9" y2="413.8"/>
<line x1="353.9" y1="2.0" x2="353.9" y2="9.5"/>
<line x1="406.8" y1="421.8" x2="406.8" y2="417.8"/>
<line x1="406.8" y1="2.0" x2="406.8" y2="5.5"/>
<line x1="459.6" y1="421.8" x2="459.6" y2="413.8"/>
<line x1="459.6" y1="2.0" x2="459.6" y2="9.5"/>
<line x1="512.5" y1="421.8" x2="512.5" y2="417.8"/>
<line x1="512.5" y1="2.0" x2="512.5" y2="5.5"/>
<line x1="565.3" y1="421.8" x2="565.3" y2="413.8"/>
<line x1="565.3" y1="2.0" x2="565.3" y2="9.5"/>
<line x1="618.1" y1="421.8" x2="618.1" y2="417.8"/>
<line x1="618.1" y1="2.0" x2="618.1" y2="5.5"/></g>
<g stroke-width="1.5"><line x1="37.6" y1="29.8" x2="46.900000000000006" y2="29.8"/>
<line x1="37.6" y1="85.8" x2="46.900000000000006" y2="85.8"/>
<line x1="37.6" y1="141.8" x2="46.900000000000006" y2="141.8"/>
<line x1="37.6" y1="197.8" x2="46.900000000000006" y2="197.8"/>
<line x1="37.6" y1="253.8" x2="46.900000000000006" y2="253.8"/>
<line x1="37.6" y1="309.8" x2="46.900000000000006" y2="309.8"/>
<line x1="37.6" y1="365.8" x2="46.900000000000006" y2="365.8"/>
<line x1="37.6" y1="57.8" x2="42.2" y2="57.8"/>
<line x1="37.6" y1="113.8" x2="42.2" y2="113.8"/>
<line x1="37.6" y1="169.8" x2="42.2" y2="169.8"/>
<line x1="37.6" y1="225.8" x2="42.2" y2="225.8"/>
<line x1="37.6" y1="281.8" x2="42.2" y2="281.8"/>
<line x1="37.6" y1="337.8" x2="42.2" y2="337.8"/>
<line x1="37.6" y1="393.8" x2="42.2" y2="393.8"/></g>
<line x1="37.6" y1="1.1" x2="37.6" y2="422.7" stroke-width="1.7"/>
<line x1="671.4" y1="1.1" x2="671.4" y2="422.7" stroke-width="2"/>
<line x1="35.7" y1="2.0" x2="672.4" y2="2.0" stroke-width="1.8"/>
<line x1="35.7" y1="421.8" x2="672.4" y2="421.8" stroke-width="1.8"/>
</g>
<g font-weight="bold" font-size="22" fill="#000" stroke="#000" stroke-width="0.18"><text transform="translate(25.10,447.4) scale(1.1182,1)">10</text>
<text transform="translate(130.80,447.4) scale(1.1182,1)">20</text>
<text transform="translate(236.50,447.4) scale(1.1182,1)">30</text>
<text transform="translate(342.20,447.4) scale(1.1182,1)">40</text>
<text transform="translate(447.90,447.4) scale(1.1182,1)">50</text>
<text transform="translate(553.60,447.4) scale(1.1182,1)">60</text>
<text transform="translate(659.30,447.4) scale(1.1182,1)">70</text></g>
<g font-weight="bold" font-size="13.2" fill="#000" stroke="#000" stroke-width="0.18"><text transform="translate(95.8,34.4) rotate(-90) scale(1.0073,1.14)">(001)</text>
<text transform="translate(202.2,88.2) rotate(-90) scale(1.0667,1.14)">(100)</text>
<text transform="translate(222.2,60) rotate(-90) scale(1.0667,1.14)">(002)</text>
<text transform="translate(243,45) rotate(-90) scale(1.0667,1.14)">(101)</text>
<text transform="translate(352.5,74.9) rotate(-90) scale(1.0667,1.14)">(102)</text>
<text transform="translate(451.3,84) rotate(-90) scale(1.0946,1.14)">(110)</text>
<text transform="translate(487.4,100.7) rotate(-90) scale(1.0667,1.14)">(103)</text>
<text transform="translate(530.0,101.5) rotate(-90) scale(1.0667,1.14)">(201)</text>
<text transform="translate(616.8,101.2) rotate(-90) scale(1.0667,1.14)">(202)</text>
<text transform="translate(97.6,359.2) rotate(-90) scale(1.0667,1.14)">(001)</text>
<text transform="translate(121,348) rotate(-90) scale(1.0667,1.14)">(010)</text>
<text transform="translate(172,341.2) rotate(-90) scale(1.0667,1.14)">(100)</text>
<text transform="translate(205.8,343.2) rotate(-90) scale(1.0946,1.14)">(110)</text></g>
<g font-weight="bold" font-size="17.8"><text transform="translate(454.6,42.6) scale(1.1162,1)" fill="#f20d0d" stroke="#f20d0d" stroke-width="0.18">e- RPET+ Nd<tspan dy="6.5" font-size="18.6">2</tspan><tspan dy="-6.5">O</tspan><tspan dy="6.5" font-size="18.6">3</tspan><tspan dy="-6.5"> 8wt.%</tspan></text>
<text transform="translate(452.4,146.9) scale(1.1202,1)" fill="#2b35f2" stroke="#2b35f2" stroke-width="0.18">d- RPET+ Nd<tspan dy="6.5" font-size="18.6">2</tspan><tspan dy="-6.5">O</tspan><tspan dy="6.5" font-size="18.6">3</tspan><tspan dy="-6.5"> 4wt.%</tspan></text>
<text transform="translate(458.7,228.8) scale(1.1231,1)" fill="#0a8f0a" stroke="#0a8f0a" stroke-width="0.18">c- RPET+ Nd<tspan dy="6.5" font-size="18.6">2</tspan><tspan dy="-6.5">O</tspan><tspan dy="6.5" font-size="18.6">3</tspan><tspan dy="-6.5"> 2wt.%</tspan></text>
<text transform="translate(457.7,304.7) scale(1.1202,1)" fill="#7a0df2" stroke="#7a0df2" stroke-width="0.18">b- RPET+ Nd<tspan dy="6.5" font-size="18.6">2</tspan><tspan dy="-6.5">O</tspan><tspan dy="6.5" font-size="18.6">3</tspan><tspan dy="-6.5"> 1wt.%</tspan></text></g>
<text transform="translate(459.7,380.6) scale(1.0966,1)" font-weight="bold" font-size="17.8" fill="#000" stroke="#000" stroke-width="0.18">a- RPET</text>
<text transform="translate(21.7,324.2) rotate(-90) scale(1.0500,1.21)" font-weight="bold" font-size="24" word-spacing="2.6" fill="#000" stroke="#000" stroke-width="0.18">Intensity (Arb. Unit)</text>
<text transform="translate(333.2,493.8) scale(1.1698,1)" font-size="25.6" fill="#000" stroke="#000" stroke-width="0.7">2θ<tspan dy="-8.5" font-size="21">o</tspan></text>
</svg>
</body></html>
